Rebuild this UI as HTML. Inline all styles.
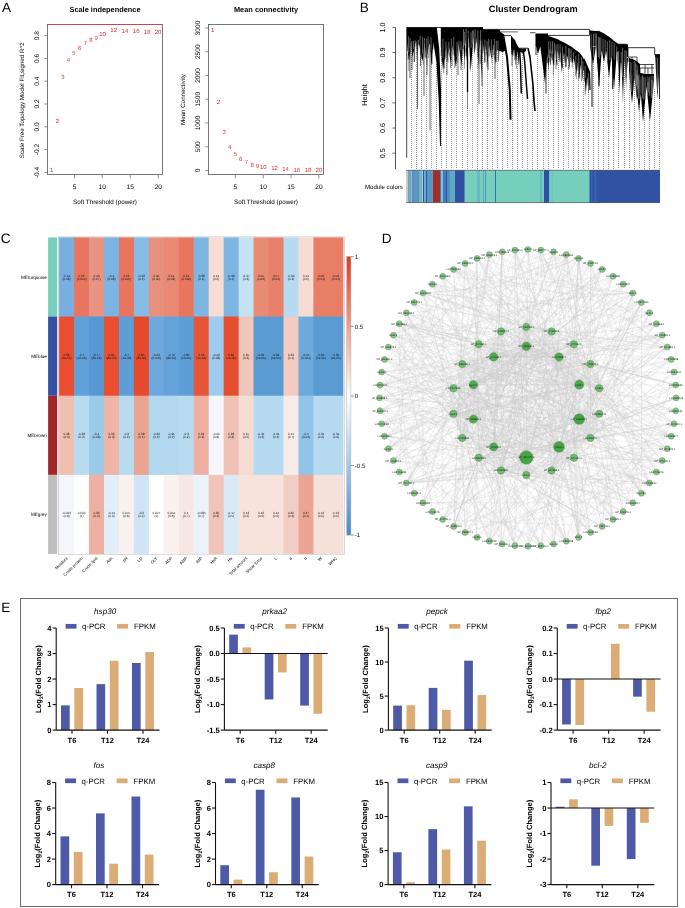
<!DOCTYPE html>
<html><head><meta charset="utf-8"><style>
html,body{margin:0;padding:0;background:#fff;}
svg{display:block;will-change:transform;}
text{font-family:"Liberation Sans",sans-serif;text-rendering:geometricPrecision;}
</style></head><body>
<svg width="685" height="908" viewBox="0 0 685 908" font-family="Liberation Sans, sans-serif">
<rect width="685" height="908" fill="#fff"/>
<text x="1.9" y="11.8" font-size="13.6">A</text>
<text x="359.8" y="11.7" font-size="13.6">B</text>
<text x="0.8" y="243.2" font-size="13.6">C</text>
<text x="381.7" y="243" font-size="13.6">D</text>
<text x="1.2" y="611.5" font-size="13.6">E</text>
<rect x="47.5" y="24.5" width="115.0" height="150.0" fill="none" stroke="#555" stroke-width="0.8"/>
<line x1="47.5" y1="24.5" x2="162.5" y2="24.5" stroke="#d04545" stroke-width="0.9"/>
<line x1="44.2" y1="35.6" x2="47.5" y2="35.6" stroke="#666" stroke-width="0.7"/>
<text transform="translate(36.3,35.6) rotate(-90)" text-anchor="middle" dy="0.35em" font-size="6.6" >0.8</text>
<line x1="44.2" y1="58.4" x2="47.5" y2="58.4" stroke="#666" stroke-width="0.7"/>
<text transform="translate(36.3,58.4) rotate(-90)" text-anchor="middle" dy="0.35em" font-size="6.6" >0.6</text>
<line x1="44.2" y1="81.2" x2="47.5" y2="81.2" stroke="#666" stroke-width="0.7"/>
<text transform="translate(36.3,81.2) rotate(-90)" text-anchor="middle" dy="0.35em" font-size="6.6" >0.4</text>
<line x1="44.2" y1="104" x2="47.5" y2="104" stroke="#666" stroke-width="0.7"/>
<text transform="translate(36.3,104) rotate(-90)" text-anchor="middle" dy="0.35em" font-size="6.6" >0.2</text>
<line x1="44.2" y1="126.8" x2="47.5" y2="126.8" stroke="#666" stroke-width="0.7"/>
<text transform="translate(36.3,126.8) rotate(-90)" text-anchor="middle" dy="0.35em" font-size="6.6" >0.0</text>
<line x1="44.2" y1="149.6" x2="47.5" y2="149.6" stroke="#666" stroke-width="0.7"/>
<text transform="translate(36.3,149.6) rotate(-90)" text-anchor="middle" dy="0.35em" font-size="6.6" >-0.2</text>
<line x1="44.2" y1="172.4" x2="47.5" y2="172.4" stroke="#666" stroke-width="0.7"/>
<text transform="translate(36.3,172.4) rotate(-90)" text-anchor="middle" dy="0.35em" font-size="6.6" >-0.4</text>
<line x1="74.5" y1="174.5" x2="74.5" y2="178.4" stroke="#666" stroke-width="0.7"/>
<text x="74.5" y="189.1" text-anchor="middle" font-size="6.6">5</text>
<line x1="102.2" y1="174.5" x2="102.2" y2="178.4" stroke="#666" stroke-width="0.7"/>
<text x="102.2" y="189.1" text-anchor="middle" font-size="6.6">10</text>
<line x1="130.2" y1="174.5" x2="130.2" y2="178.4" stroke="#666" stroke-width="0.7"/>
<text x="130.2" y="189.1" text-anchor="middle" font-size="6.6">15</text>
<line x1="158.3" y1="174.5" x2="158.3" y2="178.4" stroke="#666" stroke-width="0.7"/>
<text x="158.3" y="189.1" text-anchor="middle" font-size="6.6">20</text>
<text x="105" y="203.9" text-anchor="middle" font-size="6.3">Soft Threshold (power)</text>
<text transform="translate(22.3,100.2) rotate(-90)" text-anchor="middle" dy="0.35em" font-size="6.2" >Scale Free Topology Model Fit,signed R^2</text>
<text x="105" y="11.8" text-anchor="middle" font-size="7.4" font-weight="bold">Scale independence</text>
<text x="51.6" y="170" dy="0.35em" text-anchor="middle" font-size="6" fill="#e02a2a">1</text>
<text x="57.3" y="121" dy="0.35em" text-anchor="middle" font-size="6" fill="#e02a2a">2</text>
<text x="63" y="77" dy="0.35em" text-anchor="middle" font-size="6" fill="#e02a2a">3</text>
<text x="68.5" y="59.7" dy="0.35em" text-anchor="middle" font-size="6" fill="#e02a2a">4</text>
<text x="74" y="52.8" dy="0.35em" text-anchor="middle" font-size="6" fill="#e02a2a">5</text>
<text x="79.6" y="47.8" dy="0.35em" text-anchor="middle" font-size="6" fill="#e02a2a">6</text>
<text x="85.4" y="43.3" dy="0.35em" text-anchor="middle" font-size="6" fill="#e02a2a">7</text>
<text x="91" y="40.3" dy="0.35em" text-anchor="middle" font-size="6" fill="#e02a2a">8</text>
<text x="96.2" y="37.9" dy="0.35em" text-anchor="middle" font-size="6" fill="#e02a2a">9</text>
<text x="102.5" y="34.2" dy="0.35em" text-anchor="middle" font-size="6" fill="#e02a2a">10</text>
<text x="113.7" y="30.2" dy="0.35em" text-anchor="middle" font-size="6" fill="#e02a2a">12</text>
<text x="124.9" y="31.3" dy="0.35em" text-anchor="middle" font-size="6" fill="#e02a2a">14</text>
<text x="136.2" y="31.3" dy="0.35em" text-anchor="middle" font-size="6" fill="#e02a2a">16</text>
<text x="147.3" y="32" dy="0.35em" text-anchor="middle" font-size="6" fill="#e02a2a">18</text>
<text x="158" y="31.8" dy="0.35em" text-anchor="middle" font-size="6" fill="#e02a2a">20</text>
<rect x="208.5" y="24.5" width="115.0" height="150.0" fill="none" stroke="#555" stroke-width="0.8"/>
<line x1="205.2" y1="170.5" x2="208.5" y2="170.5" stroke="#666" stroke-width="0.7"/>
<text transform="translate(198,170.5) rotate(-90)" text-anchor="middle" dy="0.35em" font-size="6.6" >0</text>
<line x1="205.2" y1="146.75" x2="208.5" y2="146.75" stroke="#666" stroke-width="0.7"/>
<text transform="translate(198,146.75) rotate(-90)" text-anchor="middle" dy="0.35em" font-size="6.6" >500</text>
<line x1="205.2" y1="123" x2="208.5" y2="123" stroke="#666" stroke-width="0.7"/>
<text transform="translate(198,123) rotate(-90)" text-anchor="middle" dy="0.35em" font-size="6.6" >1000</text>
<line x1="205.2" y1="99.25" x2="208.5" y2="99.25" stroke="#666" stroke-width="0.7"/>
<text transform="translate(198,99.25) rotate(-90)" text-anchor="middle" dy="0.35em" font-size="6.6" >1500</text>
<line x1="205.2" y1="75.5" x2="208.5" y2="75.5" stroke="#666" stroke-width="0.7"/>
<text transform="translate(198,75.5) rotate(-90)" text-anchor="middle" dy="0.35em" font-size="6.6" >2000</text>
<line x1="205.2" y1="51.75" x2="208.5" y2="51.75" stroke="#666" stroke-width="0.7"/>
<text transform="translate(198,51.75) rotate(-90)" text-anchor="middle" dy="0.35em" font-size="6.6" >2500</text>
<line x1="205.2" y1="28" x2="208.5" y2="28" stroke="#666" stroke-width="0.7"/>
<text transform="translate(198,28) rotate(-90)" text-anchor="middle" dy="0.35em" font-size="6.6" >3000</text>
<line x1="235.3" y1="174.5" x2="235.3" y2="178.4" stroke="#666" stroke-width="0.7"/>
<text x="235.3" y="189.1" text-anchor="middle" font-size="6.6">5</text>
<line x1="263.3" y1="174.5" x2="263.3" y2="178.4" stroke="#666" stroke-width="0.7"/>
<text x="263.3" y="189.1" text-anchor="middle" font-size="6.6">10</text>
<line x1="291" y1="174.5" x2="291" y2="178.4" stroke="#666" stroke-width="0.7"/>
<text x="291" y="189.1" text-anchor="middle" font-size="6.6">15</text>
<line x1="318.9" y1="174.5" x2="318.9" y2="178.4" stroke="#666" stroke-width="0.7"/>
<text x="318.9" y="189.1" text-anchor="middle" font-size="6.6">20</text>
<text x="266" y="203.9" text-anchor="middle" font-size="6.3">Soft Threshold (power)</text>
<text transform="translate(183,99.5) rotate(-90)" text-anchor="middle" dy="0.35em" font-size="6.2" >Mean Connectivity</text>
<text x="266" y="11.8" text-anchor="middle" font-size="7.4" font-weight="bold">Mean connectivity</text>
<text x="212.7" y="30.3" dy="0.35em" text-anchor="middle" font-size="6" fill="#e02a2a">1</text>
<text x="218.4" y="102" dy="0.35em" text-anchor="middle" font-size="6" fill="#e02a2a">2</text>
<text x="224.1" y="132.3" dy="0.35em" text-anchor="middle" font-size="6" fill="#e02a2a">3</text>
<text x="229.6" y="146.4" dy="0.35em" text-anchor="middle" font-size="6" fill="#e02a2a">4</text>
<text x="235.3" y="154.1" dy="0.35em" text-anchor="middle" font-size="6" fill="#e02a2a">5</text>
<text x="240.7" y="159" dy="0.35em" text-anchor="middle" font-size="6" fill="#e02a2a">6</text>
<text x="246.4" y="162" dy="0.35em" text-anchor="middle" font-size="6" fill="#e02a2a">7</text>
<text x="252.1" y="164.5" dy="0.35em" text-anchor="middle" font-size="6" fill="#e02a2a">8</text>
<text x="257.3" y="165.5" dy="0.35em" text-anchor="middle" font-size="6" fill="#e02a2a">9</text>
<text x="263.3" y="167" dy="0.35em" text-anchor="middle" font-size="6" fill="#e02a2a">10</text>
<text x="274.5" y="167.7" dy="0.35em" text-anchor="middle" font-size="6" fill="#e02a2a">12</text>
<text x="285.6" y="168.7" dy="0.35em" text-anchor="middle" font-size="6" fill="#e02a2a">14</text>
<text x="296.8" y="169.5" dy="0.35em" text-anchor="middle" font-size="6" fill="#e02a2a">16</text>
<text x="308" y="169.7" dy="0.35em" text-anchor="middle" font-size="6" fill="#e02a2a">18</text>
<text x="318.9" y="169.7" dy="0.35em" text-anchor="middle" font-size="6" fill="#e02a2a">20</text>
<text x="533.2" y="11.6" text-anchor="middle" font-size="9.2" font-weight="bold">Cluster Dendrogram</text>
<line x1="395.5" y1="27.4" x2="395.5" y2="169.3" stroke="#444" stroke-width="0.9"/>
<line x1="392.4" y1="27.4" x2="395.5" y2="27.4" stroke="#444" stroke-width="0.8"/>
<text transform="translate(382.7,27.4) rotate(-90)" text-anchor="middle" dy="0.35em" font-size="7.2" >1.0</text>
<line x1="392.4" y1="52.56" x2="395.5" y2="52.56" stroke="#444" stroke-width="0.8"/>
<text transform="translate(382.7,52.56) rotate(-90)" text-anchor="middle" dy="0.35em" font-size="7.2" >0.9</text>
<line x1="392.4" y1="77.72" x2="395.5" y2="77.72" stroke="#444" stroke-width="0.8"/>
<text transform="translate(382.7,77.72) rotate(-90)" text-anchor="middle" dy="0.35em" font-size="7.2" >0.8</text>
<line x1="392.4" y1="102.88" x2="395.5" y2="102.88" stroke="#444" stroke-width="0.8"/>
<text transform="translate(382.7,102.88) rotate(-90)" text-anchor="middle" dy="0.35em" font-size="7.2" >0.7</text>
<line x1="392.4" y1="128.04" x2="395.5" y2="128.04" stroke="#444" stroke-width="0.8"/>
<text transform="translate(382.7,128.04) rotate(-90)" text-anchor="middle" dy="0.35em" font-size="7.2" >0.6</text>
<line x1="392.4" y1="153.2" x2="395.5" y2="153.2" stroke="#444" stroke-width="0.8"/>
<text transform="translate(382.7,153.2) rotate(-90)" text-anchor="middle" dy="0.35em" font-size="7.2" >0.5</text>
<text transform="translate(364.4,95) rotate(-90)" text-anchor="middle" dy="0.35em" font-size="7.5" >Height</text>
<text x="383.9" y="186.7" dy="0.35em" text-anchor="middle" font-size="6.1">Module colors</text>
<path d="M411.5 47V169M416.5 48V169M421.5 56V169M426.5 58V169M431.5 67V169M436.5 64V169M441.5 55V169M446.5 47V169M451.5 55V169M456.5 63V169M462.5 53V169M467.5 50V169M472.5 49V169M477.5 52V169M482.5 50V169M487.5 66V169M492.5 52V169M497.5 51V169M502.5 52V169M507.5 63V169M512.5 56V169M517.5 52V169M522.5 53V169M527.5 100V169M532.5 86V169M537.5 52V169M543.5 72V169M548.5 68V169M553.5 67V169M558.5 57V169M563.5 58V169M568.5 63V169M573.5 60V169M578.5 76V169M583.5 70V169M588.5 92V169M593.5 62V169M598.5 82V169M603.5 60V169M608.5 74V169M613.5 84V169M618.5 73V169M624.5 61V169M629.5 77V169M634.5 80V169M639.5 107V169M644.5 108V169M649.5 116V169M654.5 89V169M659.5 64V169" stroke="#8a8a8a" stroke-width="0.9" stroke-dasharray="1 1" fill="none"/><path d="M407.3 43.8V51.5M408.1 52.8V59.8M408.9 61.7V71M409.8 54.1V59.5M410.6 44.3V53.8M413 54V61.9M413.9 49.8V52.9M414.7 45.6V49.1M415.5 41.5V46.4M416.3 45.5V53.6M417.2 51.5V59.8M418.1 45.3V50.6M420.7 51V55.9M421.5 55V58.6M423.2 54.9V64.7M424.1 45.7V56.4M425 45.8V56.7M425.9 55.2V58.8M426.8 55.2V64.4M427.7 51.2V54.9M428.6 47.2V57.9M430.4 47.8V51.3M432.2 56.5V64M433.1 44.8V49.4M441.2 49.6V56M442 58.8V62.1M443.7 64.6V73.2M444.5 59V68.6M445.4 53.4V58.7M446.2 47.8V56.6M447 51.7V61.5M448 57.4V62.6M449.7 52.3V56.7M450.5 60.7V68.3M451.3 54.6V60.5M453 46.7V54.4M453.8 52.4V55.7M454.7 58.2V68.4M457.2 54.9V63M458.1 47.5V56.3M463.4 44.3V49.1M464.3 61.9V68.9M465.1 45.7V56.1M466.1 48.3V52.6M468.2 40.9V47.4M469.2 43.1V47.7M470.1 59.4V68.8M473 41.2V48.9M476.3 39.3V43.6M477.2 44.4V50.7M478.1 62V68.9M479 53.5V63.2M480.8 55.4V64.1M481.7 65.4V70.8M484.4 56.4V63M485.3 52.2V62.4M487 58.7V67M487.9 60.5V69.3M489.6 46.3V56.5M492 54V63.4M492.9 47.3V57.6M493.7 46.1V55.3M494.7 56.2V59.4M496.5 52.9V62.3M497.4 45V50.7M498.4 54.4V61.6M511.5 51V54.2M513.6 49.4V55.7M514.6 51.4V60M515.5 57.1V64.5M516.4 58.1V68.7M547.5 55V63M549.5 52.6V61.9M550.5 58.8V64.7M551.5 54V57.8M552.4 54.8V59.8M553.3 67.7V74.9M554.2 59.5V65.5M555 51.3V58.5M556 59.7V69.5M557.2 55.4V65.3M559.8 54.7V60.2M560.7 57.5V62.4M562.6 63.7V67.4M564.6 56.4V62.6M565.5 64.1V67.2M566.5 58.7V67.2M568.4 60.8V69.2M569.3 65.2V68.8M570.3 59V62.3M571.3 58.5V62.7M572.3 63.1V67.7M575.4 66.8V75.9M576.3 72.3V79M577.3 64.1V70.6M579.8 71.7V78.3M581.5 71.3V81.4M584.3 74V81.8M585.2 84.5V95.4M587.1 75.2V85.5" stroke="#3a3a3a" stroke-width="0.55" fill="none"/>
<path d="M406.9 27.5 407.9 27.5 408.9 27.5 410 27.5 411 27.5 412 27.5 413 27.5 414.1 27.5 415.1 27.5 416.1 27.5 417.1 27.5 418.2 27.5 419.2 27.5 420.2 27.5 421.2 27.5 422.2 27.5 423.3 27.5 424.3 27.5 425.3 27.5 426.3 27.5 427.4 27.5 428.4 27.5 429.4 27.5 430.4 27.5 431.5 27.5 432.5 27.5 433.5 27.5 433.5 40 432.5 41.2 431.5 42.3 430.4 43.5 429.4 43.8 428.4 43.5 427.4 43.1 426.3 42.8 425.3 42.4 424.3 42.1 423.3 42.4 422.2 42.9 421.2 43.4 420.2 43.9 419.2 44.4 418.2 44.9 417.1 44.3 416.1 43.4 415.1 42.6 414.1 41.7 413 40.9 412 40 411 40.4 410 40.8 408.9 41.2 407.9 41.6 406.9 42ZM411.1 39.4 410.8 43.5 410.4 47.5 410.1 51.6 409.7 55.6 409.4 59.7 409 63.7 409 63.7 408.7 59.7 408.3 55.6 407.9 51.6 407.5 47.5 407.1 43.5 406.8 39.4ZM416.1 39.4 415.5 42.4 414.9 45.4 414.3 48.4 413.7 51.4 413.1 54.4 412.5 57.4 412.5 57.4 412.3 54.4 412 51.4 411.7 48.4 411.4 45.4 411.1 42.4 410.8 39.4ZM418.7 42.3 418.4 44 418.2 45.8 417.9 47.5 417.7 49.3 417.4 51 417.2 52.8 417.2 52.8 416.9 51 416.7 49.3 416.5 47.5 416.2 45.8 416 44 415.8 42.3ZM424.7 41.2 424.3 44.6 424 47.9 423.7 51.3 423.4 54.7 423 58.1 422.7 61.5 422.7 61.5 422 58.1 421.3 54.7 420.5 51.3 419.8 47.9 419.1 44.6 418.4 41.2ZM430.1 41.2 429.5 44.1 428.8 47.1 428.1 50.1 427.5 53.1 426.8 56 426.1 59 426.1 59 425.8 56 425.6 53.1 425.3 50.1 425 47.1 424.7 44.1 424.4 41.2ZM433.6 39 433.3 43.9 432.9 48.7 432.5 53.6 432.1 58.4 431.8 63.3 431.4 68.1 431.4 68.1 431.1 63.3 430.9 58.4 430.6 53.6 430.3 48.7 430.1 43.9 429.8 39ZM433.3 27.6 436.8 27.6 439.2 48 441 90 440.9 146 440 146 438.7 100 436.4 62 433.3 42ZM440.8 27.5 441.8 27.5 442.8 27.5 443.8 27.5 444.8 27.5 445.8 27.5 446.9 27.5 447.9 27.5 448.9 27.5 449.9 27.5 450.9 27.5 451.9 27.5 452.9 27.5 453.9 27.5 454.9 27.5 455.9 27.5 456.9 27.5 458 27.5 459 27.5 460 27.5 461 27.5 462 27.5 463 27.5 463 43 462 43.4 461 43.8 460 44.2 459 44.6 458 45 456.9 45.3 455.9 45.5 454.9 45.8 453.9 46 452.9 46.3 451.9 46.5 450.9 46.8 449.9 47 448.9 46.9 447.9 46.8 446.9 46.7 445.8 46.5 444.8 46.4 443.8 46.3 442.8 46.2 441.8 46.1 440.8 46ZM446.7 45 446.1 49.2 445.5 53.4 444.9 57.7 444.2 61.9 443.6 66.1 443 70.3 443 70.3 442.6 66.1 442.2 61.9 441.8 57.7 441.4 53.4 441 49.2 440.7 45ZM449.5 45.6 449.2 48.2 448.9 50.7 448.6 53.3 448.3 55.8 448 58.4 447.7 60.9 447.7 60.9 447.5 58.4 447.3 55.8 447.1 53.3 446.8 50.7 446.6 48.2 446.4 45.6ZM452.7 45.4 452.3 48.4 451.9 51.4 451.5 54.4 451.1 57.4 450.7 60.4 450.3 63.4 450.3 63.4 450.1 60.4 449.9 57.4 449.7 54.4 449.6 51.4 449.4 48.4 449.2 45.4ZM458.6 43.8 458.2 47.7 457.7 51.7 457.3 55.6 456.8 59.5 456.3 63.5 455.9 67.4 455.9 67.4 455.3 63.5 454.7 59.5 454.1 55.6 453.6 51.7 453 47.7 452.4 43.8ZM463.1 42 462.9 46.1 462.6 50.2 462.4 54.3 462.1 58.5 461.9 62.6 461.6 66.7 461.6 66.7 461.1 62.6 460.5 58.5 460 54.3 459.4 50.2 458.9 46.1 458.3 42ZM463 27.5 464 27.5 465 27.5 466 27.5 467 27.5 468 27.5 469 27.5 470 27.5 471 27.5 472 27.5 473 27.5 474 27.5 475 27.5 476 27.5 477 27.5 478 27.5 479 27.5 480 27.5 481 27.5 482 27.5 483 27.5 483 37 482 37.1 481 37.3 480 37.4 479 37.6 478 37.7 477 37.9 476 38 475 37.7 474 37.3 473 37 472 36.7 471 36.3 470 36 469 36.3 468 36.6 467 36.9 466 37.1 465 37.4 464 37.7 463 38ZM465.7 36.3 465.5 41.2 465.2 46.1 465 51 464.8 55.9 464.6 60.8 464.4 65.7 464.4 65.7 464.2 60.8 463.9 55.9 463.7 51 463.4 46.1 463.1 41.2 462.9 36.3ZM468.9 35.4 468.4 39.7 468 44.1 467.6 48.5 467.2 52.9 466.8 57.3 466.5 61.6 466.5 61.6 466.4 57.3 466.2 52.9 466 48.5 465.8 44.1 465.6 39.7 465.4 35.4ZM473.6 35.4 473.1 41.6 472.6 47.9 472.1 54.1 471.6 60.4 471.1 66.6 470.8 72.9 470.8 72.9 470.5 66.6 470.1 60.4 469.7 54.1 469.4 47.9 469 41.6 468.6 35.4ZM476.9 36.1 476.5 39.3 476.1 42.4 475.7 45.5 475.3 48.7 474.9 51.8 474.6 54.9 474.6 54.9 474.4 51.8 474.2 48.7 474 45.5 473.8 42.4 473.5 39.3 473.3 36.1ZM480.5 36.4 480.1 41.3 479.7 46.3 479.3 51.2 478.9 56.2 478.5 61.2 478.2 66.1 478.2 66.1 478 61.2 477.7 56.2 477.5 51.2 477.2 46.3 476.9 41.3 476.6 36.4ZM483.1 36 482.8 43.1 482.5 50.1 482.1 57.2 481.8 64.3 481.5 71.4 481.2 78.4 481.2 78.4 481.1 71.4 480.9 64.3 480.8 57.2 480.6 50.1 480.4 43.1 480.2 36ZM483 29.6 484 29.6 485 29.6 486 29.6 487 29.6 488 29.6 489 29.6 490 29.6 491 29.6 492 29.6 493 29.6 494 29.6 495 29.6 496 29.6 497 29.6 498 29.6 499 29.6 500 29.6 500 40 499 41 498 42 497 43 496 44 495 44.3 494 44.7 493 45 492 45.3 491 45.7 490 46 489 45.7 488 45.4 487 45.1 486 44.9 485 44.6 484 44.3 483 44ZM485.9 43 485.7 46.2 485.5 49.3 485.3 52.5 485.2 55.7 485 58.8 484.8 62 484.8 62 484.5 58.8 484.2 55.7 483.8 52.5 483.5 49.3 483.2 46.2 482.9 43ZM489.3 43.8 489 47.5 488.7 51.1 488.4 54.8 488.1 58.5 487.8 62.2 487.5 65.8 487.5 65.8 487.2 62.2 486.9 58.5 486.6 54.8 486.2 51.1 485.9 47.5 485.6 43.8ZM493.4 43.9 493.1 46.4 492.8 48.9 492.5 51.4 492.2 53.9 491.9 56.4 491.6 58.8 491.6 58.8 491.1 56.4 490.7 53.9 490.3 51.4 489.9 48.9 489.4 46.4 489 43.9ZM498.1 41.1 497.6 44.9 497.1 48.8 496.7 52.7 496.2 56.5 495.8 60.4 495.3 64.2 495.3 64.2 494.9 60.4 494.6 56.5 494.2 52.7 493.8 48.8 493.5 44.9 493.1 41.1ZM500.1 39 499.9 42.8 499.7 46.7 499.4 50.5 499.2 54.3 498.9 58.2 498.7 62 498.7 62 498.5 58.2 498.4 54.3 498.2 50.5 498.1 46.7 497.9 42.8 497.8 39ZM496 29.6 497 30.4 498 31.1 499 31.9 500 32.6 501 33.4 502 34.1 503 34.9 504 38.7 505 43.4 506 48 506 50 505 50.7 504 51.3 503 52 502 51.7 501 51.4 500 51.1 499 50.9 498 50.6 497 50.3 496 50ZM511 35.6 512.1 36.8 513.1 37.9 514.2 39.1 515.2 40.6 516.3 43.3 517.4 45.5 518.4 47 519.5 48.5 519.5 52 518.4 51.5 517.4 51.1 516.3 50.6 515.2 50.1 514.2 49.6 513.1 49.1 512.1 48.5 511 48ZM514.3 47 513.9 48.7 513.6 50.4 513.2 52.1 512.9 53.7 512.5 55.4 512.2 57.1 512.2 57.1 512 55.4 511.7 53.7 511.5 52.1 511.3 50.4 511.1 48.7 510.9 47ZM517.9 48.6 517.6 50.7 517.3 52.9 517 55.1 516.7 57.2 516.3 59.4 516 61.6 516 61.6 515.7 59.4 515.4 57.2 515 55.1 514.7 52.9 514.3 50.7 514 48.6ZM519.6 50.2 519.5 52.8 519.3 55.4 519.1 58 519 60.6 518.8 63.2 518.6 65.8 518.6 65.8 518.4 63.2 518.3 60.6 518.1 58 517.9 55.4 517.8 52.8 517.6 50.2ZM519.5 48.5 520.6 48.5 521.7 48.5 522.8 48.5 523.8 48.5 524.9 48.5 526 48.5 526 51 524.9 51.7 523.8 52.4 522.8 52.9 521.7 52.6 520.6 52.3 519.5 52ZM535.5 33.5 536.5 33.5 537.6 33.5 538.6 33.5 539.7 33.5 540.7 33.5 541.8 33.5 542.8 33.5 543.8 33.5 544.9 33.5 545.9 33.5 547 33.5 548 33.5 548 44 547 44.3 545.9 44.6 544.9 44.9 543.8 45.2 542.8 45.5 541.8 45.8 540.7 45.9 539.7 45.5 538.6 45.1 537.6 44.8 536.5 44.4 535.5 44ZM541 44 540.5 45.7 540 47.3 539.5 49 539 50.7 538.5 52.3 538 54 538 54 537.6 52.3 537.2 50.7 536.8 49 536.3 47.3 535.9 45.7 535.5 44ZM548 44 547.5 50.6 547 57.2 546.5 63.8 546 70.3 545.5 76.9 545 83.5 545 83.5 544.2 76.9 543.3 70.3 542.5 63.8 541.7 57.2 540.8 50.6 540 44ZM547 35.6 548.1 35.9 549.1 36.2 550.2 36.6 551.2 36.9 552.3 37.3 553.4 37.7 554.4 38.1 555.5 38.5 556.6 38.8 557.6 39.3 558.7 39.8 559.8 40.4 560.8 40.9 561.9 41.4 562.9 42 564 42.5 565.1 43 566.1 43.6 567.2 44.2 568.2 44.9 569.3 45.5 570.4 46.1 571.4 46.7 572.5 47.4 573.6 48.2 574.6 49.1 575.7 50 576.8 50.8 577.8 51.5 578.9 52.2 579.9 53 581 54.5 582.1 56.1 583.1 57.7 584.2 59.4 585.2 61.9 586.3 64.4 587.4 66.9 588.4 69.5 589.5 72 589.5 83 588.4 80.5 587.4 77.9 586.3 75.4 585.2 72.9 584.2 70.4 583.1 68.7 582.1 67.1 581 65.5 579.9 64 578.9 63.2 577.8 62.5 576.8 61.8 575.7 61 574.6 60.1 573.6 59.2 572.5 58.4 571.4 57.7 570.4 57.1 569.3 56.5 568.2 55.9 567.2 55.2 566.1 54.6 565.1 54 564 53.5 562.9 53 561.9 52.4 560.8 51.9 559.8 51.4 558.7 50.8 557.6 50.3 556.6 49.8 555.5 49.5 554.4 49.1 553.4 48.7 552.3 48.3 551.2 47.9 550.2 47.6 549.1 47.2 548.1 46.9 547 46.6ZM550.1 45.6 549.8 49.8 549.5 54 549.2 58.2 548.9 62.4 548.6 66.6 548.3 70.8 548.3 70.8 548 66.6 547.8 62.4 547.6 58.2 547.3 54 547.1 49.8 546.9 45.6ZM552.1 46.5 551.9 49.8 551.7 53 551.4 56.3 551.2 59.6 551 62.9 550.7 66.1 550.7 66.1 550.6 62.9 550.4 59.6 550.3 56.3 550.1 53 550 49.8 549.8 46.5ZM555.6 47.2 555.2 50.9 554.8 54.6 554.4 58.4 554 62.1 553.6 65.8 553.2 69.5 553.2 69.5 553 65.8 552.8 62.1 552.5 58.4 552.3 54.6 552.1 50.9 551.8 47.2ZM557.9 48.5 557.7 51.5 557.4 54.5 557.1 57.6 556.9 60.6 556.6 63.6 556.3 66.7 556.3 66.7 556.2 63.6 556 60.6 555.8 57.6 555.7 54.5 555.5 51.5 555.3 48.5ZM560.4 49.4 560.2 51.7 560 54 559.8 56.3 559.6 58.7 559.4 61 559.2 63.3 559.2 63.3 559 61 558.7 58.7 558.4 56.3 558.2 54 557.9 51.7 557.6 49.4ZM564.2 50.6 563.8 54.3 563.4 58.1 563 61.8 562.6 65.5 562.2 69.2 561.7 72.9 561.7 72.9 561.5 69.2 561.2 65.5 560.9 61.8 560.6 58.1 560.4 54.3 560.1 50.6ZM567.1 52.5 566.9 55.1 566.7 57.6 566.5 60.2 566.3 62.7 566 65.2 565.8 67.8 565.8 67.8 565.5 65.2 565.2 62.7 564.9 60.2 564.6 57.6 564.3 55.1 563.9 52.5ZM570.9 54.1 570.7 56.3 570.5 58.5 570.2 60.7 570 62.9 569.8 65.1 569.6 67.3 569.6 67.3 569.1 65.1 568.6 62.9 568.2 60.7 567.7 58.5 567.2 56.3 566.8 54.1ZM574 56.3 573.7 57.6 573.4 58.9 573.2 60.2 572.9 61.5 572.6 62.8 572.3 64.1 572.3 64.1 572 62.8 571.8 61.5 571.5 60.2 571.2 58.9 570.9 57.6 570.6 56.3ZM578 58.5 577.7 61.1 577.5 63.8 577.3 66.4 577 69 576.8 71.7 576.5 74.3 576.5 74.3 576.1 71.7 575.6 69 575.1 66.4 574.7 63.8 574.2 61.1 573.7 58.5ZM581.2 61.6 580.8 64.8 580.4 68.1 580 71.4 579.6 74.7 579.2 78 578.8 81.3 578.8 81.3 578.6 78 578.4 74.7 578.3 71.4 578.1 68.1 577.9 64.8 577.7 61.6ZM584 64.6 583.7 67.3 583.4 70 583.1 72.7 582.7 75.4 582.4 78.1 582.1 80.8 582.1 80.8 581.9 78.1 581.7 75.4 581.5 72.7 581.3 70 581.1 67.3 580.9 64.6ZM587.7 68.8 587.4 72.8 587.1 76.8 586.8 80.9 586.5 84.9 586.2 88.9 585.9 92.9 585.9 92.9 585.5 88.9 585.2 84.9 584.8 80.9 584.4 76.8 584.1 72.8 583.7 68.8ZM589.6 77.4 589.5 80.3 589.4 83.1 589.2 86 589.1 88.9 588.9 91.7 588.8 94.6 588.8 94.6 588.5 91.7 588.3 88.9 588.1 86 587.9 83.1 587.6 80.3 587.4 77.4ZM590 30.5 591 30.6 592 30.7 593 30.8 594 30.9 595 31 596 31.1 597 31.2 598 31.3 599 31.4 600 31.5 601 32 602 32.5 603 33 604 33.5 605 34 606 34.7 607 35.4 608 36.1 609 36.8 610 37.5 611 38.3 612 39.1 613 39.9 614 40.7 615 41.5 616 42.2 617 42.8 618 43.5 618 52 617 51.8 616 51.5 615 51.2 614 51 613 50.8 612 50.5 611 50.2 610 50 609 49.6 608 49.2 607 48.8 606 48.4 605 48 604 47.6 603 47.2 602 46.8 601 46.4 600 46 599 46.1 598 46.2 597 46.3 596 46.4 595 46.5 594 46.6 593 46.7 592 46.8 591 46.9 590 47ZM596 47 595.5 49.9 595 52.8 594.5 55.8 594 58.7 593.5 61.6 593 64.5 593 64.5 592.5 61.6 592 58.7 591.5 55.8 591 52.8 590.5 49.9 590 47ZM602 46 601.5 53.1 601 60.2 600.5 67.3 600 74.5 599.5 81.6 599 88.7 599 88.7 598.5 81.6 598 74.5 597.5 67.3 597 60.2 596.5 53.1 596 46ZM607 47 606.5 49.5 606 52 605.5 54.5 605 57 604.5 59.5 604 62 604 62 603.5 59.5 603 57 602.5 54.5 602 52 601.5 49.5 601 47ZM612 49 611.5 53.8 611 58.7 610.5 63.5 610 68.3 609.5 73.2 609 78 609 78 608.5 73.2 608 68.3 607.5 63.5 607 58.7 606.5 53.8 606 49ZM617 50 616.5 56.7 616 63.3 615.5 70 615 76.7 614.5 83.3 614 90 614 90 613.5 83.3 613 76.7 612.5 70 612 63.3 611.5 56.7 611 50ZM617.5 44.2 618.5 44.2 619.6 44.2 620.6 44.2 621.7 44.2 622.8 44.2 623.8 44.2 624.9 44.2 625.9 44.2 627 44.2 628 44.2 628 56 627 57.4 625.9 58.8 624.9 60.2 623.8 61.6 622.8 63 621.7 63.7 620.6 62.8 619.6 61.9 618.5 60.9 617.5 60ZM621 59 620.7 65 620.3 71 620.1 77 619.8 83 619.6 89 619.5 95 619.5 95 619.3 89 619.1 83 618.8 77 618.4 71 618 65 617.5 59ZM624.5 60 624.2 67.5 623.8 75 623.6 82.5 623.3 90 623.1 97.5 623 105 623 105 622.8 97.5 622.6 90 622.3 82.5 621.9 75 621.5 67.5 621 60ZM628 58 627.5 63.3 627.1 68.7 626.7 74 626.4 79.3 626.2 84.7 626 90 626 90 625.9 84.7 625.7 79.3 625.4 74 625.2 68.7 624.8 63.3 624.5 58ZM629 58 630 58.3 631 58.7 632 59 633 59.3 634 59.7 635 60 636 60.8 637 61.6 638 62.4 639 63.2 640 64 640 78 639 77.6 638 77.2 637 76.8 636 76.4 635 76 634 75.3 633 74.7 632 74 631 73.3 630 72.7 629 72ZM635 71 634.5 76.5 634 81.9 633.5 87.4 633 92.9 632.5 98.3 632 103.8 632 103.8 631.5 98.3 631 92.9 630.5 87.4 630 81.9 629.5 76.5 629 71ZM640 75 639.5 79.2 639 83.3 638.5 87.5 638 91.7 637.5 95.8 637 100 637 100 636.5 95.8 636 91.7 635.5 87.5 635 83.3 634.5 79.2 634 75ZM636 72 637 72.2 638 72.4 639 72.7 640 72.9 641 73.1 642 73.3 643 73.6 644 73.8 645 74 646 74 647 74 648 74 649 74 650 74 651 74 652 74 653 74 654 74 654 82 653 82.2 652 82.4 651 82.7 650 82.9 649 83.1 648 83.3 647 83.6 646 83.8 645 84 644 83.8 643 83.6 642 83.3 641 83.1 640 82.9 639 82.7 638 82.4 637 82.2 636 82ZM642 81 641.5 86.2 641 91.3 640.5 96.5 640 101.7 639.5 106.8 639 112 639 112 638.5 106.8 638 101.7 637.5 96.5 637 91.3 636.5 86.2 636 81ZM647 82 646.3 88.7 645.7 95.4 645 102.2 644.3 108.9 643.7 115.6 643 122.3 643 122.3 642.5 115.6 642 108.9 641.5 102.2 641 95.4 640.5 88.7 640 82ZM654 81 653.3 87.7 652.7 94.3 652 101 651.3 107.7 650.7 114.3 650 121 650 121 649.3 114.3 648.7 107.7 648 101 647.3 94.3 646.7 87.7 646 81ZM660 54.6 659.6 62 659.2 69.4 658.8 76.8 658.3 84.2 657.9 91.6 657.5 99 657.5 99 657.1 91.6 656.7 84.2 656.2 76.8 655.8 69.4 655.4 62 655 54.6Z" fill="#000"/>
<path d="M408.6 36.3V52.5M410 38V48.5M411.7 41.3V52.5M413.5 40.8V48.9M415.4 40.6V54M416.8 41.4V51.7M418.4 40.1V53.4M420.2 35.9V50.6M422.6 37V53.5M424.5 38.2V55.8M426.6 38.9V55.8M428.1 36.4V56.6M431 37V50.3M442.9 38.6V57.7M445.9 41.7V55.9M448.8 41.7V57.4M451.3 38.8V57.3M453.7 37V57.2M457 41.8V57.1M458.9 40.9V55.3M461 41.5V50.5M463.5 29V47.5M464.7 31.8V45.4M466.1 28.7V48.1M468.2 31V47.8M471.1 32.3V47.8M472.6 30.4V44.3M473.7 30.4V49M475.2 29.6V46.5M477.8 30.6V48.7M480.6 30.1V49.7M484.9 39.7V58.1M487.1 41.3V51.9M488.7 38.8V53.9M491.4 39.4V55.7M494.4 39V53M496.3 40.7V56.9M497.9 40.7V55.9M548.7 41.2V58.2M550.7 41.6V53.3M552.5 41.3V53.5M554.4 42.6V59.1M556 44.4V60M557.9 44.1V60M560.1 44.1V64.6M562.6 46.6V63.9M565.9 45.6V64.4M568.6 48.1V64.3M569.8 48.5V64.8M571.2 49.5V69.8M573.5 52.2V71.9M575.8 56V71.2M578.7 54.4V72.9M581.5 57.4V78.6M582.9 61.3V74.7M585.1 66V78.1M588.3 72.8V89.3M591.1 33.8V57.1M593.5 34V57.4M595.2 33.1V53.4M596.4 33.8V57.4M598.4 36.9V57.2M599.6 37.4V58.6M600.8 37.5V54.8M603 38.9V54.1M605.2 39.9V58.9M607.4 41.6V60.5M609.8 39.8V59.9M611.9 41.8V55.9M614.2 43.3V59.6M616.7 46.5V58.8M618.5 51.1V74.2M621.2 52V75.9M622.6 47.8V77.1M624.9 50.3V72.9M626.3 50.6V74.5M630.3 61.7V86.5M631.7 62.8V92.3M634.2 60.8V85.5M635.5 62.7V90M636.6 63.9V85.6M637.7 65.2V89.4M636.9 74.6V93.7M638.3 75.7V98.7M639.2 74.1V98.5M641 76.4V93.7M642.5 75.2V98.5M643.8 76.7V99.9M645.2 76.6V98M647.4 76.3V95M648.4 77.6V92.6M649.3 76.7V95.9M651.2 75.9V98.2M652.1 75.6V97.3M653.1 75.9V97.8M655.8 57V92.9M657.6 57.7V90.9M659.4 58.3V97.3" stroke="#fff" stroke-width="0.45" stroke-opacity="0.85" fill="none"/>
<path d="M406.7 27.5V157.8" stroke="#333" stroke-width="0.9" fill="none"/>
<path d="M410 40V78M412 40V70M417.5 40V109M424 40V96M430 40V130M427 40V75M414.5 40V62M420.5 40V66" stroke="#222" stroke-width="0.7" fill="none"/>
<path d="M467.5 33V92" stroke="#000" stroke-width="1.3" fill="none"/>
<path d="M467.5 92V109" stroke="#666" stroke-width="0.7" fill="none"/>
<path d="M479 40V104" stroke="#444" stroke-width="0.8" fill="none"/>
<path d="M482 40V86M495 50V79" stroke="#333" stroke-width="0.8" fill="none"/>
<path d="M442 45V61M447 45V75M452 45V66M458 45V75M461 45V70M512 50V66" stroke="#333" stroke-width="0.7" fill="none"/>
<path d="M488 50V70" stroke="#444" stroke-width="0.7" fill="none"/>
<path d="M589.5 29.4V35.4M536 44V55M546 60V93.4M612.5 60V89M654.7 47.7V54.6M628 47.7V62M659.5 54.6V99" stroke="#000" stroke-width="0.8" fill="none"/>
<path d="M592 50V107" stroke="#000" stroke-width="0.9" fill="none"/>
<path d="M599 60V86M632 57V75M637 57V70M640 68V80M645 64.5V78M648 68V82M652 64.5V80" stroke="#000" stroke-width="0.7" fill="none"/>
<path d="M406.7 27.5 483 27.5M483 29.4 589.5 29.4M503.2 35.6 511 35.6M519.1 48.2 528 48.2M535.5 35.4 589.5 35.4M589.5 31.4 600 31.4M617.5 44.2 626.4 44.2M628 47.7 654.7 47.7M654.7 54.6 660 54.6" stroke="#000" stroke-width="0.8" fill="none" stroke-linejoin="round"/>
<path d="M496 31.9 518 31.9" stroke="#000" stroke-width="0.6" fill="none" stroke-linejoin="round"/>
<path d="M496 30 503.2 35 507 57 509.8 90 510.5 119.8" stroke="#000" stroke-width="2.0" fill="none" stroke-linejoin="round"/>
<path d="M519.5 48.5 520.5 65 521.3 93.4M523 49 524.5 60 527.5 99" stroke="#000" stroke-width="1.5" fill="none" stroke-linejoin="round"/>
<path d="M528 48.2 530 57 533 85 534 101 535 111" stroke="#000" stroke-width="1.6" fill="none" stroke-linejoin="round"/>
<path d="M530 32.7 535.5 32.7M628 57 637 57M638 64.5 654 64.5M640 68 654 68" stroke="#000" stroke-width="0.7" fill="none" stroke-linejoin="round"/>
<path d="M584 59 587 66 589.5 72 590 90" stroke="#000" stroke-width="1.2" fill="none" stroke-linejoin="round"/><rect x="406.1" y="170.3" width="1.7" height="32.3" fill="#c8c8c8"/><rect x="407.8" y="170.3" width="3.2" height="32.3" fill="#70a8c0"/><rect x="411" y="170.3" width="1" height="32.3" fill="#80c8c0"/><rect x="412" y="170.3" width="2" height="32.3" fill="#6a88c8"/><rect x="414" y="170.3" width="4" height="32.3" fill="#5a9ac0"/><rect x="418" y="170.3" width="1" height="32.3" fill="#6a80c8"/><rect x="419" y="170.3" width="3.5" height="32.3" fill="#70b8c0"/><rect x="422.5" y="170.3" width="0.5" height="32.3" fill="#78cfbe"/><rect x="423" y="170.3" width="1.5" height="32.3" fill="#3050a8"/><rect x="424.5" y="170.3" width="1.5" height="32.3" fill="#60a8c8"/><rect x="426" y="170.3" width="1" height="32.3" fill="#3858b0"/><rect x="427" y="170.3" width="5.9" height="32.3" fill="#5898c0"/><rect x="432.9" y="170.3" width="7.1" height="32.3" fill="#a02c2e"/><rect x="440" y="170.3" width="1.5" height="32.3" fill="#4080c0"/><rect x="441.5" y="170.3" width="1.5" height="32.3" fill="#70c8c0"/><rect x="443" y="170.3" width="3" height="32.3" fill="#4878c0"/><rect x="446" y="170.3" width="1" height="32.3" fill="#3050a8"/><rect x="447" y="170.3" width="3" height="32.3" fill="#5090c0"/><rect x="450" y="170.3" width="5" height="32.3" fill="#60a8c0"/><rect x="455" y="170.3" width="9.8" height="32.3" fill="#3050a3"/><rect x="464.8" y="170.3" width="195.2" height="32.3" fill="#76cebd"/><rect x="477.2" y="170.3" width="2.7" height="32.3" fill="#68b8c4"/><rect x="483.1" y="170.3" width="0.9" height="32.3" fill="#60a8c8"/><rect x="485.1" y="170.3" width="0.9" height="32.3" fill="#5090c8"/><rect x="495" y="170.3" width="1" height="32.3" fill="#3a6cb8"/><rect x="540.3" y="170.3" width="1.3" height="32.3" fill="#60a8c8"/><rect x="544" y="170.3" width="5.1" height="32.3" fill="#3050a3"/><rect x="551.7" y="170.3" width="0.8" height="32.3" fill="#68b8c8"/><rect x="589.5" y="170.3" width="70.5" height="32.3" fill="#3151a2"/><rect x="591" y="170.3" width="1.5" height="32.3" fill="#3a62b2"/><rect x="594" y="170.3" width="2.5" height="32.3" fill="#3a60b0"/><rect x="598" y="170.3" width="1" height="32.3" fill="#3558aa"/><path d="M406.1 170.3H659.8M406.1 202.6H659.8" stroke="#333" stroke-width="0.6"/>
<rect x="58.4" y="236.9" width="285.9" height="317.3" fill="none" stroke="#c8c8c8" stroke-width="0.8"/>
<rect x="48.1" y="237.4" width="9.1" height="79.2" fill="#78cfbe"/>
<text x="46.8" y="276.98" dy="0.35em" text-anchor="end" font-size="4.6">MEturquoise</text>
<rect x="59.1" y="237.4" width="15.56" height="79.75" fill="#78aee0"/>
<text x="66.58" y="276.68" text-anchor="middle" font-size="3.1" fill="#111">-0.41</text>
<text x="66.58" y="279.98" text-anchor="middle" font-size="3.1" fill="#111">(0.09)</text>
<rect x="74.06" y="237.4" width="15.56" height="79.75" fill="#e8765e"/>
<text x="81.54" y="276.68" text-anchor="middle" font-size="3.1" fill="#111">0.62</text>
<text x="81.54" y="279.98" text-anchor="middle" font-size="3.1" fill="#111">(0.005)</text>
<rect x="89.02" y="237.4" width="15.56" height="79.75" fill="#e89482"/>
<text x="96.5" y="276.68" text-anchor="middle" font-size="3.1" fill="#111">0.43</text>
<text x="96.5" y="279.98" text-anchor="middle" font-size="3.1" fill="#111">(0.07)</text>
<rect x="103.98" y="237.4" width="15.56" height="79.75" fill="#7bb3e2"/>
<text x="111.46" y="276.68" text-anchor="middle" font-size="3.1" fill="#111">-0.4</text>
<text x="111.46" y="279.98" text-anchor="middle" font-size="3.1" fill="#111">(0.09)</text>
<rect x="118.94" y="237.4" width="15.56" height="79.75" fill="#e8765e"/>
<text x="126.42" y="276.68" text-anchor="middle" font-size="3.1" fill="#111">0.62</text>
<text x="126.42" y="279.98" text-anchor="middle" font-size="3.1" fill="#111">(0.005)</text>
<rect x="133.9" y="237.4" width="15.56" height="79.75" fill="#86bde6"/>
<text x="141.38" y="276.68" text-anchor="middle" font-size="3.1" fill="#111">-0.32</text>
<text x="141.38" y="279.98" text-anchor="middle" font-size="3.1" fill="#111">(0.2)</text>
<rect x="148.86" y="237.4" width="15.56" height="79.75" fill="#e8907e"/>
<text x="156.34" y="276.68" text-anchor="middle" font-size="3.1" fill="#111">0.46</text>
<text x="156.34" y="279.98" text-anchor="middle" font-size="3.1" fill="#111">(0.05)</text>
<rect x="163.82" y="237.4" width="15.56" height="79.75" fill="#e88a76"/>
<text x="171.3" y="276.68" text-anchor="middle" font-size="3.1" fill="#111">0.51</text>
<text x="171.3" y="279.98" text-anchor="middle" font-size="3.1" fill="#111">(0.03)</text>
<rect x="178.78" y="237.4" width="15.56" height="79.75" fill="#e8765e"/>
<text x="186.26" y="276.68" text-anchor="middle" font-size="3.1" fill="#111">0.61</text>
<text x="186.26" y="279.98" text-anchor="middle" font-size="3.1" fill="#111">(0.006)</text>
<rect x="193.74" y="237.4" width="15.56" height="79.75" fill="#7db5e3"/>
<text x="201.22" y="276.68" text-anchor="middle" font-size="3.1" fill="#111">-0.38</text>
<text x="201.22" y="279.98" text-anchor="middle" font-size="3.1" fill="#111">(0.1)</text>
<rect x="208.7" y="237.4" width="15.56" height="79.75" fill="#f7dcd4"/>
<text x="216.18" y="276.68" text-anchor="middle" font-size="3.1" fill="#111">0.14</text>
<text x="216.18" y="279.98" text-anchor="middle" font-size="3.1" fill="#111">(0.6)</text>
<rect x="223.66" y="237.4" width="15.56" height="79.75" fill="#7db5e3"/>
<text x="231.14" y="276.68" text-anchor="middle" font-size="3.1" fill="#111">-0.39</text>
<text x="231.14" y="279.98" text-anchor="middle" font-size="3.1" fill="#111">(0.1)</text>
<rect x="238.62" y="237.4" width="15.56" height="79.75" fill="#c5e2f4"/>
<text x="246.1" y="276.68" text-anchor="middle" font-size="3.1" fill="#111">-0.27</text>
<text x="246.1" y="279.98" text-anchor="middle" font-size="3.1" fill="#111">(0.3)</text>
<rect x="253.58" y="237.4" width="15.56" height="79.75" fill="#e98a72"/>
<text x="261.06" y="276.68" text-anchor="middle" font-size="3.1" fill="#111">0.55</text>
<text x="261.06" y="279.98" text-anchor="middle" font-size="3.1" fill="#111">(0.02)</text>
<rect x="268.54" y="237.4" width="15.56" height="79.75" fill="#e8806a"/>
<text x="276.02" y="276.68" text-anchor="middle" font-size="3.1" fill="#111">0.57</text>
<text x="276.02" y="279.98" text-anchor="middle" font-size="3.1" fill="#111">(0.01)</text>
<rect x="283.5" y="237.4" width="15.56" height="79.75" fill="#b6dbf1"/>
<text x="290.98" y="276.68" text-anchor="middle" font-size="3.1" fill="#111">-0.33</text>
<text x="290.98" y="279.98" text-anchor="middle" font-size="3.1" fill="#111">(0.2)</text>
<rect x="298.46" y="237.4" width="15.56" height="79.75" fill="#f7dcd4"/>
<text x="305.94" y="276.68" text-anchor="middle" font-size="3.1" fill="#111">0.14</text>
<text x="305.94" y="279.98" text-anchor="middle" font-size="3.1" fill="#111">(0.6)</text>
<rect x="313.42" y="237.4" width="15.56" height="79.75" fill="#e87e66"/>
<text x="320.9" y="276.68" text-anchor="middle" font-size="3.1" fill="#111">0.58</text>
<text x="320.9" y="279.98" text-anchor="middle" font-size="3.1" fill="#111">(0.01)</text>
<rect x="328.38" y="237.4" width="14.96" height="79.75" fill="#e87e66"/>
<text x="335.86" y="276.68" text-anchor="middle" font-size="3.1" fill="#111">0.59</text>
<text x="335.86" y="279.98" text-anchor="middle" font-size="3.1" fill="#111">(0.01)</text>
<rect x="48.1" y="316.55" width="9.1" height="79.2" fill="#3451a3"/>
<text x="46.8" y="356.12" dy="0.35em" text-anchor="end" font-size="4.6">MEblue</text>
<rect x="59.1" y="316.55" width="15.56" height="79.75" fill="#e84e2f"/>
<text x="66.58" y="355.82" text-anchor="middle" font-size="3.1" fill="#111">0.83</text>
<text x="66.58" y="359.12" text-anchor="middle" font-size="3.1" fill="#111">(1e-05)</text>
<rect x="74.06" y="316.55" width="15.56" height="79.75" fill="#62a0d8"/>
<text x="81.54" y="355.82" text-anchor="middle" font-size="3.1" fill="#111">-0.7</text>
<text x="81.54" y="359.12" text-anchor="middle" font-size="3.1" fill="#111">(1e-03)</text>
<rect x="89.02" y="316.55" width="15.56" height="79.75" fill="#5898d3"/>
<text x="96.5" y="355.82" text-anchor="middle" font-size="3.1" fill="#111">-0.77</text>
<text x="96.5" y="359.12" text-anchor="middle" font-size="3.1" fill="#111">(2e-04)</text>
<rect x="103.98" y="316.55" width="15.56" height="79.75" fill="#e84e2f"/>
<text x="111.46" y="355.82" text-anchor="middle" font-size="3.1" fill="#111">0.85</text>
<text x="111.46" y="359.12" text-anchor="middle" font-size="3.1" fill="#111">(8e-06)</text>
<rect x="118.94" y="316.55" width="15.56" height="79.75" fill="#5e9dd5"/>
<text x="126.42" y="355.82" text-anchor="middle" font-size="3.1" fill="#111">-0.7</text>
<text x="126.42" y="359.12" text-anchor="middle" font-size="3.1" fill="#111">(1e-03)</text>
<rect x="133.9" y="316.55" width="15.56" height="79.75" fill="#e64a2c"/>
<text x="141.38" y="355.82" text-anchor="middle" font-size="3.1" fill="#111">0.85</text>
<text x="141.38" y="359.12" text-anchor="middle" font-size="3.1" fill="#111">(8e-06)</text>
<rect x="148.86" y="316.55" width="15.56" height="79.75" fill="#6ea8dc"/>
<text x="156.34" y="355.82" text-anchor="middle" font-size="3.1" fill="#111">-0.62</text>
<text x="156.34" y="359.12" text-anchor="middle" font-size="3.1" fill="#111">(0.006)</text>
<rect x="163.82" y="316.55" width="15.56" height="79.75" fill="#65a2da"/>
<text x="171.3" y="355.82" text-anchor="middle" font-size="3.1" fill="#111">-0.72</text>
<text x="171.3" y="359.12" text-anchor="middle" font-size="3.1" fill="#111">(8e-04)</text>
<rect x="178.78" y="316.55" width="15.56" height="79.75" fill="#5e9dd5"/>
<text x="186.26" y="355.82" text-anchor="middle" font-size="3.1" fill="#111">-0.81</text>
<text x="186.26" y="359.12" text-anchor="middle" font-size="3.1" fill="#111">(5e-05)</text>
<rect x="193.74" y="316.55" width="15.56" height="79.75" fill="#e65538"/>
<text x="201.22" y="355.82" text-anchor="middle" font-size="3.1" fill="#111">0.79</text>
<text x="201.22" y="359.12" text-anchor="middle" font-size="3.1" fill="#111">(1e-04)</text>
<rect x="208.7" y="316.55" width="15.56" height="79.75" fill="#9fcbec"/>
<text x="216.18" y="355.82" text-anchor="middle" font-size="3.1" fill="#111">-0.42</text>
<text x="216.18" y="359.12" text-anchor="middle" font-size="3.1" fill="#111">(0.08)</text>
<rect x="223.66" y="316.55" width="15.56" height="79.75" fill="#e64e30"/>
<text x="231.14" y="355.82" text-anchor="middle" font-size="3.1" fill="#111">0.84</text>
<text x="231.14" y="359.12" text-anchor="middle" font-size="3.1" fill="#111">(1e-05)</text>
<rect x="238.62" y="316.55" width="15.56" height="79.75" fill="#f0c5ba"/>
<text x="246.1" y="355.82" text-anchor="middle" font-size="3.1" fill="#111">0.25</text>
<text x="246.1" y="359.12" text-anchor="middle" font-size="3.1" fill="#111">(0.3)</text>
<rect x="253.58" y="316.55" width="15.56" height="79.75" fill="#5a9bd2"/>
<text x="261.06" y="355.82" text-anchor="middle" font-size="3.1" fill="#111">-0.81</text>
<text x="261.06" y="359.12" text-anchor="middle" font-size="3.1" fill="#111">(5e-05)</text>
<rect x="268.54" y="316.55" width="15.56" height="79.75" fill="#5a9bd2"/>
<text x="276.02" y="355.82" text-anchor="middle" font-size="3.1" fill="#111">-0.81</text>
<text x="276.02" y="359.12" text-anchor="middle" font-size="3.1" fill="#111">(5e-05)</text>
<rect x="283.5" y="316.55" width="15.56" height="79.75" fill="#f2cbc1"/>
<text x="290.98" y="355.82" text-anchor="middle" font-size="3.1" fill="#111">0.23</text>
<text x="290.98" y="359.12" text-anchor="middle" font-size="3.1" fill="#111">(0.4)</text>
<rect x="298.46" y="316.55" width="15.56" height="79.75" fill="#6eaadc"/>
<text x="305.94" y="355.82" text-anchor="middle" font-size="3.1" fill="#111">-0.65</text>
<text x="305.94" y="359.12" text-anchor="middle" font-size="3.1" fill="#111">(0.004)</text>
<rect x="313.42" y="316.55" width="15.56" height="79.75" fill="#5a9bd2"/>
<text x="320.9" y="355.82" text-anchor="middle" font-size="3.1" fill="#111">-0.81</text>
<text x="320.9" y="359.12" text-anchor="middle" font-size="3.1" fill="#111">(5e-05)</text>
<rect x="328.38" y="316.55" width="14.96" height="79.75" fill="#5a9bd2"/>
<text x="335.86" y="355.82" text-anchor="middle" font-size="3.1" fill="#111">-0.81</text>
<text x="335.86" y="359.12" text-anchor="middle" font-size="3.1" fill="#111">(5e-05)</text>
<rect x="48.1" y="395.7" width="9.1" height="79.2" fill="#a0282c"/>
<text x="46.8" y="435.28" dy="0.35em" text-anchor="end" font-size="4.6">MEbrown</text>
<rect x="59.1" y="395.7" width="15.56" height="79.75" fill="#f0bfb2"/>
<text x="66.58" y="434.98" text-anchor="middle" font-size="3.1" fill="#111">0.28</text>
<text x="66.58" y="438.28" text-anchor="middle" font-size="3.1" fill="#111">(0.3)</text>
<rect x="74.06" y="395.7" width="15.56" height="79.75" fill="#b8dbf0"/>
<text x="81.54" y="434.98" text-anchor="middle" font-size="3.1" fill="#111">-0.29</text>
<text x="81.54" y="438.28" text-anchor="middle" font-size="3.1" fill="#111">(0.2)</text>
<rect x="89.02" y="395.7" width="15.56" height="79.75" fill="#9ccbea"/>
<text x="96.5" y="434.98" text-anchor="middle" font-size="3.1" fill="#111">-0.4</text>
<text x="96.5" y="438.28" text-anchor="middle" font-size="3.1" fill="#111">(0.09)</text>
<rect x="103.98" y="395.7" width="15.56" height="79.75" fill="#f0b5a6"/>
<text x="111.46" y="434.98" text-anchor="middle" font-size="3.1" fill="#111">0.33</text>
<text x="111.46" y="438.28" text-anchor="middle" font-size="3.1" fill="#111">(0.2)</text>
<rect x="118.94" y="395.7" width="15.56" height="79.75" fill="#b8dbf0"/>
<text x="126.42" y="434.98" text-anchor="middle" font-size="3.1" fill="#111">-0.3</text>
<text x="126.42" y="438.28" text-anchor="middle" font-size="3.1" fill="#111">(0.2)</text>
<rect x="133.9" y="395.7" width="15.56" height="79.75" fill="#eaa592"/>
<text x="141.38" y="434.98" text-anchor="middle" font-size="3.1" fill="#111">0.39</text>
<text x="141.38" y="438.28" text-anchor="middle" font-size="3.1" fill="#111">(0.1)</text>
<rect x="148.86" y="395.7" width="15.56" height="79.75" fill="#b2d8ef"/>
<text x="156.34" y="434.98" text-anchor="middle" font-size="3.1" fill="#111">-0.32</text>
<text x="156.34" y="438.28" text-anchor="middle" font-size="3.1" fill="#111">(0.2)</text>
<rect x="163.82" y="395.7" width="15.56" height="79.75" fill="#b2d8ef"/>
<text x="171.3" y="434.98" text-anchor="middle" font-size="3.1" fill="#111">-0.31</text>
<text x="171.3" y="438.28" text-anchor="middle" font-size="3.1" fill="#111">(0.2)</text>
<rect x="178.78" y="395.7" width="15.56" height="79.75" fill="#b8dbf0"/>
<text x="186.26" y="434.98" text-anchor="middle" font-size="3.1" fill="#111">-0.3</text>
<text x="186.26" y="438.28" text-anchor="middle" font-size="3.1" fill="#111">(0.2)</text>
<rect x="193.74" y="395.7" width="15.56" height="79.75" fill="#eeb0a0"/>
<text x="201.22" y="434.98" text-anchor="middle" font-size="3.1" fill="#111">0.33</text>
<text x="201.22" y="438.28" text-anchor="middle" font-size="3.1" fill="#111">(0.2)</text>
<rect x="208.7" y="395.7" width="15.56" height="79.75" fill="#f5f7fa"/>
<text x="216.18" y="434.98" text-anchor="middle" font-size="3.1" fill="#111">-0.06</text>
<text x="216.18" y="438.28" text-anchor="middle" font-size="3.1" fill="#111">(0.8)</text>
<rect x="223.66" y="395.7" width="15.56" height="79.75" fill="#f0c2b6"/>
<text x="231.14" y="434.98" text-anchor="middle" font-size="3.1" fill="#111">0.28</text>
<text x="231.14" y="438.28" text-anchor="middle" font-size="3.1" fill="#111">(0.3)</text>
<rect x="238.62" y="395.7" width="15.56" height="79.75" fill="#f5dcd4"/>
<text x="246.1" y="434.98" text-anchor="middle" font-size="3.1" fill="#111">0.15</text>
<text x="246.1" y="438.28" text-anchor="middle" font-size="3.1" fill="#111">(0.6)</text>
<rect x="253.58" y="395.7" width="15.56" height="79.75" fill="#b6daf0"/>
<text x="261.06" y="434.98" text-anchor="middle" font-size="3.1" fill="#111">-0.31</text>
<text x="261.06" y="438.28" text-anchor="middle" font-size="3.1" fill="#111">(0.2)</text>
<rect x="268.54" y="395.7" width="15.56" height="79.75" fill="#b6daf0"/>
<text x="276.02" y="434.98" text-anchor="middle" font-size="3.1" fill="#111">-0.31</text>
<text x="276.02" y="438.28" text-anchor="middle" font-size="3.1" fill="#111">(0.2)</text>
<rect x="283.5" y="395.7" width="15.56" height="79.75" fill="#f8ece8"/>
<text x="290.98" y="434.98" text-anchor="middle" font-size="3.1" fill="#111">0.11</text>
<text x="290.98" y="438.28" text-anchor="middle" font-size="3.1" fill="#111">(0.7)</text>
<rect x="298.46" y="395.7" width="15.56" height="79.75" fill="#92c4e8"/>
<text x="305.94" y="434.98" text-anchor="middle" font-size="3.1" fill="#111">-0.5</text>
<text x="305.94" y="438.28" text-anchor="middle" font-size="3.1" fill="#111">(0.03)</text>
<rect x="313.42" y="395.7" width="15.56" height="79.75" fill="#b6daf0"/>
<text x="320.9" y="434.98" text-anchor="middle" font-size="3.1" fill="#111">-0.31</text>
<text x="320.9" y="438.28" text-anchor="middle" font-size="3.1" fill="#111">(0.2)</text>
<rect x="328.38" y="395.7" width="14.96" height="79.75" fill="#b6daf0"/>
<text x="335.86" y="434.98" text-anchor="middle" font-size="3.1" fill="#111">-0.31</text>
<text x="335.86" y="438.28" text-anchor="middle" font-size="3.1" fill="#111">(0.2)</text>
<rect x="48.1" y="474.85" width="9.1" height="79.2" fill="#bfbfbf"/>
<text x="46.8" y="514.43" dy="0.35em" text-anchor="end" font-size="4.6">MEgrey</text>
<rect x="59.1" y="474.85" width="15.56" height="79.15" fill="#f4f6f9"/>
<text x="66.58" y="514.13" text-anchor="middle" font-size="3.1" fill="#111">-0.063</text>
<text x="66.58" y="517.43" text-anchor="middle" font-size="3.1" fill="#111">(0.8)</text>
<rect x="74.06" y="474.85" width="15.56" height="79.15" fill="#fefefe"/>
<text x="81.54" y="514.13" text-anchor="middle" font-size="3.1" fill="#111">0.006</text>
<text x="81.54" y="517.43" text-anchor="middle" font-size="3.1" fill="#111">(1)</text>
<rect x="89.02" y="474.85" width="15.56" height="79.15" fill="#eeb0a2"/>
<text x="96.5" y="514.13" text-anchor="middle" font-size="3.1" fill="#111">0.33</text>
<text x="96.5" y="517.43" text-anchor="middle" font-size="3.1" fill="#111">(0.2)</text>
<rect x="103.98" y="474.85" width="15.56" height="79.15" fill="#e2eef8"/>
<text x="111.46" y="514.13" text-anchor="middle" font-size="3.1" fill="#111">-0.14</text>
<text x="111.46" y="517.43" text-anchor="middle" font-size="3.1" fill="#111">(0.6)</text>
<rect x="118.94" y="474.85" width="15.56" height="79.15" fill="#faf2ef"/>
<text x="126.42" y="514.13" text-anchor="middle" font-size="3.1" fill="#111">0.075</text>
<text x="126.42" y="517.43" text-anchor="middle" font-size="3.1" fill="#111">(0.8)</text>
<rect x="133.9" y="474.85" width="15.56" height="79.15" fill="#cfe4f4"/>
<text x="141.38" y="514.13" text-anchor="middle" font-size="3.1" fill="#111">-0.2</text>
<text x="141.38" y="517.43" text-anchor="middle" font-size="3.1" fill="#111">(0.4)</text>
<rect x="148.86" y="474.85" width="15.56" height="79.15" fill="#ffffff"/>
<text x="156.34" y="514.13" text-anchor="middle" font-size="3.1" fill="#111">0.007</text>
<text x="156.34" y="517.43" text-anchor="middle" font-size="3.1" fill="#111">(1)</text>
<rect x="163.82" y="474.85" width="15.56" height="79.15" fill="#faf2ef"/>
<text x="171.3" y="514.13" text-anchor="middle" font-size="3.1" fill="#111">0.054</text>
<text x="171.3" y="517.43" text-anchor="middle" font-size="3.1" fill="#111">(0.8)</text>
<rect x="178.78" y="474.85" width="15.56" height="79.15" fill="#f7e8e4"/>
<text x="186.26" y="514.13" text-anchor="middle" font-size="3.1" fill="#111">0.1</text>
<text x="186.26" y="517.43" text-anchor="middle" font-size="3.1" fill="#111">(0.7)</text>
<rect x="193.74" y="474.85" width="15.56" height="79.15" fill="#eaf2fa"/>
<text x="201.22" y="514.13" text-anchor="middle" font-size="3.1" fill="#111">-0.085</text>
<text x="201.22" y="517.43" text-anchor="middle" font-size="3.1" fill="#111">(0.7)</text>
<rect x="208.7" y="474.85" width="15.56" height="79.15" fill="#f0c4b8"/>
<text x="216.18" y="514.13" text-anchor="middle" font-size="3.1" fill="#111">0.26</text>
<text x="216.18" y="517.43" text-anchor="middle" font-size="3.1" fill="#111">(0.3)</text>
<rect x="223.66" y="474.85" width="15.56" height="79.15" fill="#d8eaf6"/>
<text x="231.14" y="514.13" text-anchor="middle" font-size="3.1" fill="#111">-0.17</text>
<text x="231.14" y="517.43" text-anchor="middle" font-size="3.1" fill="#111">(0.5)</text>
<rect x="238.62" y="474.85" width="15.56" height="79.15" fill="#f7e2dc"/>
<text x="246.1" y="514.13" text-anchor="middle" font-size="3.1" fill="#111">0.13</text>
<text x="246.1" y="517.43" text-anchor="middle" font-size="3.1" fill="#111">(0.6)</text>
<rect x="253.58" y="474.85" width="15.56" height="79.15" fill="#f7e2dc"/>
<text x="261.06" y="514.13" text-anchor="middle" font-size="3.1" fill="#111">0.13</text>
<text x="261.06" y="517.43" text-anchor="middle" font-size="3.1" fill="#111">(0.6)</text>
<rect x="268.54" y="474.85" width="15.56" height="79.15" fill="#f7e2dc"/>
<text x="276.02" y="514.13" text-anchor="middle" font-size="3.1" fill="#111">0.14</text>
<text x="276.02" y="517.43" text-anchor="middle" font-size="3.1" fill="#111">(0.6)</text>
<rect x="283.5" y="474.85" width="15.56" height="79.15" fill="#f2cdc2"/>
<text x="290.98" y="514.13" text-anchor="middle" font-size="3.1" fill="#111">0.26</text>
<text x="290.98" y="517.43" text-anchor="middle" font-size="3.1" fill="#111">(0.3)</text>
<rect x="298.46" y="474.85" width="15.56" height="79.15" fill="#eaa594"/>
<text x="305.94" y="514.13" text-anchor="middle" font-size="3.1" fill="#111">0.37</text>
<text x="305.94" y="517.43" text-anchor="middle" font-size="3.1" fill="#111">(0.1)</text>
<rect x="313.42" y="474.85" width="15.56" height="79.15" fill="#f5e0da"/>
<text x="320.9" y="514.13" text-anchor="middle" font-size="3.1" fill="#111">0.13</text>
<text x="320.9" y="517.43" text-anchor="middle" font-size="3.1" fill="#111">(0.6)</text>
<rect x="328.38" y="474.85" width="14.96" height="79.15" fill="#f5e0da"/>
<text x="335.86" y="514.13" text-anchor="middle" font-size="3.1" fill="#111">0.13</text>
<text x="335.86" y="517.43" text-anchor="middle" font-size="3.1" fill="#111">(0.6)</text>
<text transform="translate(68.08,558.5) rotate(-45)" text-anchor="end" font-size="4.2">Moisture</text>
<text transform="translate(83.04,558.5) rotate(-45)" text-anchor="end" font-size="4.2">Crude protein</text>
<text transform="translate(98,558.5) rotate(-45)" text-anchor="end" font-size="4.2">Crude lipid</text>
<text transform="translate(112.96,558.5) rotate(-45)" text-anchor="end" font-size="4.2">Ash</text>
<text transform="translate(127.92,558.5) rotate(-45)" text-anchor="end" font-size="4.2">pH</text>
<text transform="translate(142.88,558.5) rotate(-45)" text-anchor="end" font-size="4.2">LD</text>
<text transform="translate(157.84,558.5) rotate(-45)" text-anchor="end" font-size="4.2">GLY</text>
<text transform="translate(172.8,558.5) rotate(-45)" text-anchor="end" font-size="4.2">ADP</text>
<text transform="translate(187.76,558.5) rotate(-45)" text-anchor="end" font-size="4.2">AMP</text>
<text transform="translate(202.72,558.5) rotate(-45)" text-anchor="end" font-size="4.2">IMP</text>
<text transform="translate(217.68,558.5) rotate(-45)" text-anchor="end" font-size="4.2">HxR</text>
<text transform="translate(232.64,558.5) rotate(-45)" text-anchor="end" font-size="4.2">Hx</text>
<text transform="translate(247.6,558.5) rotate(-45)" text-anchor="end" font-size="4.2">Total amount</text>
<text transform="translate(262.56,558.5) rotate(-45)" text-anchor="end" font-size="4.2">Shear force</text>
<text transform="translate(277.52,558.5) rotate(-45)" text-anchor="end" font-size="4.2">L</text>
<text transform="translate(292.48,558.5) rotate(-45)" text-anchor="end" font-size="4.2">a</text>
<text transform="translate(307.44,558.5) rotate(-45)" text-anchor="end" font-size="4.2">b</text>
<text transform="translate(322.4,558.5) rotate(-45)" text-anchor="end" font-size="4.2">W</text>
<text transform="translate(337.36,558.5) rotate(-45)" text-anchor="end" font-size="4.2">WHC</text>
<defs><linearGradient id="cb" x1="0" y1="0" x2="0" y2="1"><stop offset="0" stop-color="#e6381c"/><stop offset="0.25" stop-color="#f2a08a"/><stop offset="0.5" stop-color="#ffffff"/><stop offset="0.75" stop-color="#a3c9ec"/><stop offset="1" stop-color="#4a88cc"/></linearGradient></defs>
<rect x="346.8" y="256.6" width="4.1" height="278.5" fill="url(#cb)" stroke="#999" stroke-width="0.4"/>
<line x1="350.9" y1="256.6" x2="354" y2="256.6" stroke="#555" stroke-width="0.6"/>
<text x="354.7" y="256.6" dy="0.36em" font-size="6.2" fill="#222">1</text>
<line x1="350.9" y1="326.3" x2="354" y2="326.3" stroke="#555" stroke-width="0.6"/>
<text x="354.7" y="326.3" dy="0.36em" font-size="6.2" fill="#222">0.5</text>
<line x1="350.9" y1="396" x2="354" y2="396" stroke="#555" stroke-width="0.6"/>
<text x="354.7" y="396" dy="0.36em" font-size="6.2" fill="#222">0</text>
<line x1="350.9" y1="465.5" x2="354" y2="465.5" stroke="#555" stroke-width="0.6"/>
<text x="354.7" y="465.5" dy="0.36em" font-size="6.2" fill="#222">-0.5</text>
<line x1="350.9" y1="535.1" x2="354" y2="535.1" stroke="#555" stroke-width="0.6"/>
<text x="354.7" y="535.1" dy="0.36em" font-size="6.2" fill="#222">-1</text>
<path d="M422.9 502.8L473.4 419.1M579.2 384.7Q528.5 365.6 478.7 344.3M579.2 384.7L551.6 331.5M399.3 323.7L590.6 532.4M590.6 532.4L540.8 250.1M662.3 460.6L493.6 356.9M381.7 372.1Q488.2 411 599.2 388.2M526.3 475L501 470.5M641.5 493.3L599.2 413.8M393.4 460.6Q460.2 464.4 526.3 475M551.6 470.5Q574.8 409.5 573.9 344.3M442.7 519.5Q525 444.4 573.9 344.3M477.1 537.4L599.2 413.8M613 276.3L551.6 470.5M540.8 250.1Q510.3 327.5 453.4 388.2M590.4 438L590.4 364M453.4 388.2L478.7 457.7M551.6 470.5L493.6 446.9M406.3 483Q447.4 418.2 493.6 356.9M590.4 438L501 470.5M676.2 397.9Q584.2 423.6 501 470.5M489.4 541.2Q451.8 456.3 462.2 364M501 331.5Q473.9 381.9 462.2 438M578.6 537.4L453.4 388.2M578.6 258.4Q503.8 289.4 422.9 293M526.3 346.3L599.2 388.2M662.3 335.2L599.2 413.8M380 410.8Q430.4 495.4 514.9 545.7M671.2 436.3L478.7 344.3M477.1 537.4Q468.1 450.8 462.2 364M590.4 364L462.2 438M667.3 448.7L579.2 384.7M599.2 413.8L573.9 344.3M502.1 251.8L493.6 356.9M422.9 502.8L578.6 258.4M540.8 545.7L473.4 384.7M514.9 545.7L501 470.5M540.8 250.1L462.2 364M540.8 545.7Q467.1 440.4 393.4 335.2M422.9 502.8Q448.7 477.7 478.7 457.7M453.4 413.8L478.7 457.7M478.7 344.3L599.2 388.2M414.2 493.3Q387.4 404 406.3 312.8M380 410.8L599.2 413.8M478.7 344.3L579.2 419.1M502.1 251.8L493.6 446.9M566.3 254.6Q611.9 367.3 649.4 483M623.2 511.6L493.6 446.9M590.6 263.4L462.2 364M662.3 460.6Q548.8 440.2 462.2 364M399.3 472.1L579.2 419.1M602.1 526.4L559 446.9M384.5 436.3L540.8 545.7M559 446.9L473.4 384.7M501 331.5Q531.5 340.6 559 356.9M514.9 545.7L478.7 457.7M477.1 258.4L478.7 457.7M399.3 472.1L406.3 312.8M559 356.9L573.9 344.3M526.3 327Q492.1 381.2 462.2 438M676.2 397.9L501 470.5M462.2 438L453.4 413.8M514.9 545.7L406.3 312.8M674 423.7L559 356.9M502.1 544Q456.2 459.8 462.2 364M526.3 475L462.2 364M566.3 254.6L671.2 359.5M573.9 457.7Q552 471.5 526.3 475M406.3 312.8L501 331.5M399.3 323.7Q484.4 278.6 578.6 258.4M399.3 323.7L478.7 344.3M671.2 359.5L526.3 327M477.1 258.4Q529.5 347.7 559 446.9M393.4 335.2L478.7 457.7M674 372.1Q613.5 349.8 551.6 331.5M662.3 335.2L579.2 419.1M473.4 384.7L462.2 438M649.4 483L526.3 475M502.1 544Q501.1 462 473.4 384.7M399.3 323.7Q463.8 398.5 526.3 475M422.9 293L501 470.5M489.4 254.6Q469.9 335.7 473.4 419.1M566.3 254.6L501 470.5M462.2 438L559 446.9M671.2 359.5L623.2 511.6M590.4 364L559 446.9M559 446.9Q508.2 414 453.4 388.2M674 423.7L573.9 344.3M662.3 335.2L399.3 472.1M671.2 359.5L384.5 436.3M380 385Q516.9 357 649.4 312.8M406.3 483Q469.6 398.3 551.6 331.5M432.5 284.2L526.3 475M623.2 511.6Q584.2 496.7 551.6 470.5M526.3 475L478.7 344.3M493.6 356.9L478.7 457.7M674 372.1Q620 415 559 446.9M578.6 258.4L573.9 344.3M388.4 347.1L573.9 457.7M465.1 532.4L590.4 364M393.4 460.6L602.1 269.4M453.4 413.8L579.2 419.1M641.5 302.5L579.2 419.1M526.3 475L501 470.5M393.4 460.6Q430 456.1 462.2 438M380 385L493.6 356.9M656.4 323.7Q604.7 336.9 551.6 331.5M406.3 312.8Q421.2 411.9 432.5 511.6M559 356.9Q506.9 386.6 453.4 413.8M393.4 460.6L493.6 356.9M578.6 537.4Q603.6 433.2 667.3 347.1M602.1 526.4L578.6 258.4M559 446.9L526.3 327M675.7 410.8L590.4 364M388.4 347.1Q473.1 411.4 579.2 419.1M566.3 254.6L613 519.5M414.2 493.3Q496 454.6 579.2 419.1M393.4 335.2L674 423.7M641.5 493.3L590.6 263.4M553.6 544L526.3 327M381.7 423.7Q490.6 421.9 599.2 413.8M478.7 344.3L526.3 346.3M632.8 293L602.1 526.4M399.3 323.7L551.6 331.5M422.9 293L462.2 438M602.1 269.4L551.6 331.5M442.7 276.3Q426.4 361 384.5 436.3M473.4 419.1Q539.9 408.6 590.4 364M632.8 293L632.8 502.8M422.9 502.8L462.2 364M453.6 269.4Q533.3 308.7 579.2 384.7M384.5 359.5L473.4 384.7M675.7 385L526.3 475M566.3 541.2L473.4 384.7M477.1 258.4L641.5 302.5M379.5 397.9L526.3 346.3M422.9 293Q528.3 397.6 590.6 532.4M406.3 483Q544.2 423.6 656.4 323.7M514.9 250.1L526.3 327M674 372.1Q597.4 375 526.3 346.3M553.6 251.8Q544.4 355.2 526.3 457.5M399.3 472.1Q428.2 346 514.9 250.1M566.3 541.2L422.9 293M514.9 250.1Q531 287 526.3 327M559 356.9Q542 342.7 526.3 327M453.7 526.4Q467.9 492.7 478.7 457.7M526.3 457.5Q561.3 412.8 590.4 364M676.2 397.9L453.4 388.2M379.5 397.9Q484.4 377.5 590.4 364M380 385L671.2 436.3M674 423.7L501 331.5M527.9 249.5Q547.1 313.3 590.4 364M641.5 493.3Q587.8 407.5 526.3 327M422.9 502.8L462.2 438M649.4 483L502.1 544M602.1 526.4L478.7 457.7M613 276.3L422.9 293M602.1 526.4L414.2 302.5M388.4 448.7L656.4 323.7M649.4 483L465.1 532.4M477.1 258.4Q526.9 300.3 559 356.9M662.3 335.2L478.7 344.3M393.4 460.6Q440.9 374.9 526.3 327M393.4 460.6L478.7 344.3M384.5 436.3L453.4 388.2M559 446.9L501 331.5M380 410.8L478.7 457.7M453.6 269.4Q576 357.5 641.5 493.3M540.8 250.1L551.6 470.5M502.1 544L478.7 457.7M526.3 457.5L559 356.9M453.6 269.4L649.4 312.8M489.4 254.6L379.5 397.9M465.1 263.4L641.5 493.3M393.4 460.6Q446.6 471.7 501 470.5M406.3 483L573.9 457.7M632.8 293Q619.1 354.3 599.2 413.8M380 410.8L573.9 457.7M590.6 532.4L526.3 475M453.7 526.4L662.3 460.6M514.9 545.7L514.9 250.1M656.4 472.1L465.1 532.4M453.7 526.4Q499.3 501.8 526.3 457.5M453.6 269.4Q540.7 300 632.8 293M613 519.5L559 446.9M656.4 323.7Q591.7 338.7 526.3 327M675.7 410.8L406.3 483M381.7 372.1L465.1 532.4M559 446.9L501 331.5M662.3 335.2Q586.5 420.4 478.7 457.7M406.3 483L667.3 448.7M641.5 302.5L573.9 457.7M399.3 472.1Q467 403.2 526.3 327M527.9 249.5L462.2 364M632.8 293L462.2 364M514.9 545.7Q519.2 436.3 526.3 327M649.4 483L501 470.5M422.9 293L649.4 312.8M442.7 519.5L623.2 284.2M380 410.8Q483.4 483.3 602.1 526.4M656.4 323.7L502.1 251.8M501 331.5L493.6 356.9M573.9 344.3L453.4 388.2M526.3 327L473.4 384.7M553.6 251.8Q540.9 289.7 526.3 327M453.6 269.4Q520.1 296.7 573.9 344.3M453.4 388.2L526.3 327M540.8 545.7L399.3 323.7M388.4 448.7L432.5 284.2M578.6 258.4Q570 349.2 590.4 438M380 385Q416.1 419.3 462.2 438M442.7 519.5Q548.2 437 676.2 397.9M573.9 344.3Q529 403.2 478.7 457.7M399.3 323.7Q398.3 409.2 414.2 493.3M671.2 436.3Q534.8 375.8 388.4 347.1M381.7 423.7Q526.8 374.8 675.7 410.8M501 470.5L559 356.9M632.8 293L478.7 457.7M662.3 460.6Q514 460.5 379.5 397.9M453.7 526.4Q468.7 484.2 493.6 446.9M559 446.9Q516.5 395.9 501 331.5M406.3 483L526.3 475M381.7 372.1Q438 366.8 493.6 356.9M675.7 385L573.9 457.7M540.8 250.1L526.3 327M432.5 284.2L559 446.9M613 276.3L473.4 419.1M514.9 250.1L526.3 475M671.2 359.5L406.3 483M671.2 436.3L526.3 346.3M384.5 359.5L613 276.3M393.4 460.6L590.4 364M502.1 251.8L406.3 483M432.5 511.6L623.2 284.2M641.5 493.3L526.3 346.3M676.2 397.9L478.7 457.7M540.8 545.7L406.3 312.8M566.3 541.2L551.6 470.5M393.4 460.6L599.2 413.8M566.3 541.2L381.7 372.1M559 356.9L599.2 388.2M478.7 457.7Q488.2 394.3 501 331.5M422.9 293L579.2 419.1M381.7 423.7L671.2 359.5M381.7 372.1L559 356.9M667.3 347.1Q607.6 391 559 446.9M623.2 284.2Q505.4 314 388.4 347.1M623.2 284.2L579.2 384.7M384.5 436.3Q443.3 482.4 489.4 541.2M465.1 532.4L453.6 269.4M399.3 472.1L599.2 388.2M501 470.5Q515.9 406.6 559 356.9M641.5 302.5L579.2 384.7M388.4 448.7Q498.1 457.5 599.2 413.8M478.7 457.7Q493.4 389 526.3 327M477.1 258.4L590.4 438M380 410.8L501 331.5M526.3 475Q534.1 413.6 559 356.9M453.6 269.4L551.6 470.5M649.4 312.8Q555.6 334.5 473.4 384.7M662.3 335.2L493.6 356.9M526.3 346.3Q553.2 390.4 599.2 413.8M453.7 526.4L526.3 457.5M453.7 526.4Q542.4 412.5 656.4 323.7M381.7 423.7Q467.5 359.1 573.9 344.3M656.4 323.7L432.5 284.2M632.8 293L573.9 457.7M501 331.5L526.3 475M465.1 532.4L478.7 457.7M662.3 335.2L599.2 413.8M477.1 258.4Q557.2 317.3 656.4 323.7M380 385Q485.5 377.7 590.4 364M453.4 413.8Q502.9 373.1 551.6 331.5M462.2 438L579.2 419.1M501 470.5L473.4 419.1M489.4 541.2L602.1 269.4M489.4 541.2L453.4 388.2M432.5 284.2Q478.4 386.1 551.6 470.5M656.4 323.7L599.2 388.2M662.3 335.2L453.4 388.2M578.6 537.4L559 356.9M406.3 312.8Q492.4 359.7 590.4 364M602.1 269.4L501 331.5M566.3 254.6L442.7 519.5M414.2 302.5L493.6 356.9M526.3 475Q556 419.7 559 356.9M380 410.8L514.9 545.7M599.2 388.2L526.3 475M578.6 258.4L526.3 327M380 410.8L527.9 546.3M579.2 419.1Q518.5 394.9 453.4 388.2M540.8 250.1L599.2 413.8M477.1 258.4L473.4 419.1M406.3 483Q456.3 385.5 551.6 331.5M526.3 457.5Q556.4 441.4 590.4 438M384.5 436.3Q480.6 405.7 579.2 384.7M579.2 384.7L551.6 470.5M602.1 526.4L623.2 284.2M380 385Q455.9 376 526.3 346.3M502.1 251.8L493.6 446.9M613 276.3L551.6 470.5M379.5 397.9L613 276.3M453.6 269.4Q507.1 317.5 573.9 344.3M393.4 335.2L473.4 384.7M641.5 493.3L526.3 327M432.5 284.2L590.4 438M649.4 483L590.4 364M599.2 413.8L573.9 457.7M613 276.3Q527.7 397.8 502.1 544M667.3 347.1L462.2 438M566.3 254.6L540.8 545.7M553.6 544Q515.8 500.3 493.6 446.9M380 410.8L473.4 384.7M381.7 372.1Q458.4 407.3 526.3 457.5M590.6 263.4L656.4 472.1M599.2 413.8L478.7 457.7M380 385L478.7 457.7M662.3 460.6L526.3 327M662.3 335.2Q592.5 394.3 526.3 457.5M473.4 384.7L501 470.5M462.2 364L599.2 388.2M526.3 457.5L559 356.9M551.6 470.5L473.4 419.1M501 470.5L559 356.9M388.4 448.7L453.4 413.8M526.3 327L573.9 457.7M442.7 276.3L632.8 293M641.5 302.5L579.2 419.1M641.5 302.5Q599.1 391.3 526.3 457.5M590.6 263.4L526.3 475M453.6 269.4L573.9 344.3M579.2 419.1Q579 401.9 579.2 384.7M590.4 438Q520.8 416.2 453.4 388.2M632.8 293L579.2 419.1M473.4 384.7L573.9 344.3M674 423.7L478.7 457.7M442.7 519.5Q477 441 493.6 356.9M656.4 323.7L473.4 384.7M384.5 359.5L559 446.9M388.4 347.1L473.4 384.7M442.7 276.3Q460.5 310.4 478.7 344.3M453.4 413.8Q515.9 425.1 579.2 419.1M590.4 364Q596.1 375.6 599.2 388.2M662.3 335.2Q639.2 381.3 599.2 413.8M662.3 335.2L526.3 346.3M613 519.5L551.6 331.5M453.7 526.4L465.1 263.4M388.4 448.7L473.4 384.7M578.6 258.4L599.2 413.8M493.6 356.9Q526.3 355.7 559 356.9M442.7 519.5L667.3 347.1M551.6 470.5Q582.8 433.6 599.2 388.2M422.9 502.8Q492 505.4 551.6 470.5M675.7 410.8L380 385M671.2 359.5L526.3 475M656.4 472.1Q520.4 454.3 384.5 436.3M432.5 284.2L526.3 327M489.4 541.2Q545.9 456 590.4 364M578.6 258.4L553.6 544M623.2 511.6L453.7 526.4M388.4 347.1Q460.2 280.7 553.6 251.8M489.4 541.2Q556.6 426.7 671.2 359.5M671.2 436.3Q615.9 494 553.6 544M399.3 323.7Q450.9 327.7 493.6 356.9M514.9 250.1L590.4 438M527.9 546.3Q481.9 459.9 462.2 364M671.2 359.5Q606.2 419.5 526.3 457.5M414.2 302.5L526.3 327M465.1 532.4L478.7 344.3M632.8 502.8L493.6 356.9M384.5 359.5L599.2 388.2M649.4 483L573.9 457.7M649.4 312.8Q616.7 387.9 573.9 457.7M632.8 502.8L526.3 475M414.2 302.5L573.9 457.7M578.6 537.4L573.9 344.3M489.4 254.6Q524.9 326.1 579.2 384.7M399.3 323.7L478.7 344.3M674 423.7L489.4 541.2M493.6 356.9L559 356.9M656.4 472.1L453.4 388.2M662.3 335.2L559 356.9M422.9 293Q566.2 343.1 662.3 460.6M674 423.7L540.8 545.7M573.9 344.3L579.2 384.7M590.6 532.4L526.3 327M473.4 419.1L462.2 438M675.7 410.8L462.2 438M406.3 312.8Q450.9 336 501 331.5M590.6 263.4L590.4 438M453.7 526.4L478.7 344.3M674 423.7L462.2 438M613 519.5L526.3 346.3M613 276.3L526.3 475M667.3 448.7L493.6 446.9M414.2 302.5L453.4 388.2M623.2 511.6Q621.5 447.9 599.2 388.2M489.4 254.6L579.2 384.7M599.2 388.2L526.3 327M675.7 385L590.4 364M573.9 344.3L473.4 384.7M590.4 364Q534.8 397.1 493.6 446.9M453.6 269.4L579.2 384.7M623.2 511.6L599.2 413.8M514.9 250.1Q477.6 358.4 501 470.5M422.9 293Q486.7 314.1 551.6 331.5M573.9 457.7L453.4 388.2M406.3 312.8Q500.6 373.1 573.9 457.7M527.9 249.5Q537.7 362.8 501 470.5M602.1 526.4L478.7 457.7M590.4 364L579.2 384.7M590.6 263.4L599.2 388.2M590.4 364Q524.5 390.6 453.4 388.2M573.9 457.7Q538.6 471 501 470.5M379.5 397.9Q423.7 412 462.2 438M559 446.9L462.2 438M526.3 327Q515.1 399 501 470.5M579.2 384.7L599.2 388.2M493.6 356.9Q512.2 415.3 526.3 475M526.3 327L453.4 388.2M399.3 323.7Q491.5 359.8 590.4 364M379.5 397.9Q519.4 349.9 667.3 347.1M559 356.9L462.2 438M399.3 323.7L478.7 344.3M393.4 335.2L442.7 519.5M462.2 364Q495.6 426.7 551.6 470.5M623.2 284.2Q565.6 369 551.6 470.5M514.9 545.7L559 446.9M393.4 335.2L551.6 331.5M379.5 397.9L453.6 269.4M641.5 493.3Q555.5 496.8 478.7 457.7M662.3 460.6L573.9 457.7M579.2 384.7L462.2 364M453.4 388.2L599.2 413.8M393.4 335.2Q461.4 403.6 526.3 475M414.2 493.3L473.4 384.7M573.9 457.7L573.9 344.3M406.3 483L526.3 475M671.2 436.3Q582.8 395.8 493.6 356.9M553.6 544L453.4 413.8M559 356.9L599.2 413.8M526.3 327L501 470.5M649.4 483L379.5 397.9M399.3 323.7L579.2 419.1M656.4 472.1Q565.9 485.5 478.7 457.7M381.7 423.7Q437.4 457.2 501 470.5M671.2 436.3L573.9 457.7M551.6 331.5L493.6 446.9M422.9 293L422.9 502.8M676.2 397.9L453.7 526.4M671.2 436.3Q564.4 406.8 462.2 364M551.6 470.5L579.2 384.7M656.4 472.1L590.4 364M553.6 251.8L453.7 526.4M553.6 251.8L493.6 356.9M380 385L579.2 419.1M559 446.9Q533.9 383.8 478.7 344.3M641.5 493.3L559 356.9M406.3 312.8L527.9 546.3M388.4 347.1L501 470.5M578.6 258.4L526.3 475M514.9 250.1L493.6 446.9M662.3 335.2L381.7 423.7M414.2 493.3L599.2 388.2M399.3 323.7L559 356.9M578.6 537.4L590.4 364M473.4 419.1L526.3 457.5M667.3 347.1Q548.9 303.1 422.9 293M674 372.1L579.2 384.7M602.1 269.4Q534.8 355.9 462.2 438M381.7 372.1Q495.4 295.1 632.8 293M641.5 493.3L526.3 346.3M380 385L478.7 344.3M613 519.5L599.2 388.2M422.9 293L526.3 327M381.7 423.7Q482.6 415 579.2 384.7M578.6 258.4Q522.6 341.4 453.4 413.8M406.3 312.8L462.2 364M432.5 511.6L399.3 323.7M379.5 397.9L590.4 364M381.7 423.7Q475.2 377.6 573.9 344.3M442.7 276.3Q507.8 350.6 599.2 388.2M453.4 413.8L493.6 446.9M406.3 483L590.4 438M465.1 532.4L674 372.1M649.4 483L381.7 372.1M527.9 249.5L406.3 483M422.9 293L573.9 344.3M477.1 537.4L667.3 448.7M623.2 284.2Q606.5 336.8 579.2 384.7M473.4 384.7L590.4 364M493.6 356.9L526.3 327M393.4 335.2L566.3 254.6M667.3 347.1L551.6 331.5M399.3 323.7Q456.1 393 501 470.5M453.4 388.2Q496 377.9 526.3 346.3M599.2 413.8Q594.1 425.7 590.4 438M553.6 251.8L579.2 419.1M462.2 364Q537 382.5 590.4 438M675.7 410.8L599.2 388.2M599.2 413.8L501 470.5M566.3 541.2L590.4 438M579.2 419.1L559 446.9M671.2 436.3Q563.1 410.5 462.2 364M578.6 537.4L676.2 397.9M573.9 344.3L590.4 364M414.2 493.3Q484.8 516.1 553.6 544M573.9 457.7L579.2 419.1M613 519.5Q519.9 470 453.4 388.2M579.2 419.1L478.7 457.7M379.5 397.9Q466 317.3 566.3 254.6M667.3 347.1L527.9 249.5M465.1 532.4L559 446.9M590.4 364L501 470.5M422.9 293L462.2 438M489.4 541.2L473.4 384.7M632.8 502.8L453.4 413.8M551.6 331.5L573.9 344.3M406.3 483L501 331.5M578.6 537.4Q649.7 468.2 674 372.1M632.8 293L599.2 388.2M566.3 541.2L526.3 457.5M579.2 384.7Q518.2 407.4 453.4 413.8M453.4 388.2Q449.8 401 453.4 413.8M599.2 388.2L590.4 438M613 519.5Q539.4 436.8 478.7 344.3M380 410.8L473.4 384.7M540.8 545.7Q550.1 496.4 559 446.9M388.4 448.7L623.2 284.2M393.4 460.6L590.4 364M667.3 448.7L526.3 327M649.4 483L526.3 327M579.2 384.7Q546.8 433.8 501 470.5M502.1 251.8Q514.8 289.2 526.3 327M432.5 511.6L559 356.9M514.9 250.1Q540.5 337 579.2 419.1M667.3 448.7L453.4 413.8M406.3 483Q477.6 424.6 526.3 346.3M590.4 438L493.6 356.9M540.8 250.1L599.2 388.2M388.4 347.1L501 470.5M632.8 502.8Q514.4 423.7 381.7 372.1M388.4 347.1L573.9 344.3M540.8 545.7Q558.5 497.9 559 446.9M641.5 302.5L566.3 541.2M613 519.5L493.6 446.9M399.3 323.7L453.4 413.8M393.4 335.2Q443.3 437.3 489.4 541.2M559 356.9Q543 350.4 526.3 346.3M393.4 335.2L573.9 344.3M579.2 384.7L473.4 384.7M623.2 511.6L590.4 438M465.1 532.4L579.2 384.7M527.9 546.3L599.2 388.2M559 446.9Q518.3 447.9 478.7 457.7M406.3 483L590.4 438M393.4 460.6L526.3 346.3M671.2 436.3Q585.1 357.8 540.8 250.1M501 470.5L453.4 413.8M388.4 448.7Q442.9 404.9 493.6 356.9M599.2 388.2Q537.6 369.9 478.7 344.3M676.2 397.9Q568.5 310.7 432.5 284.2M579.2 419.1Q582.3 381.3 573.9 344.3M379.5 397.9L590.4 438M399.3 323.7L493.6 446.9M478.7 344.3L478.7 457.7M599.2 413.8L526.3 475M573.9 344.3Q533.4 348.7 493.6 356.9M590.6 263.4L442.7 519.5M477.1 258.4Q524.6 324.4 579.2 384.7M590.6 263.4L473.4 419.1M656.4 323.7Q620.1 363.9 599.2 413.8M553.6 251.8Q519.6 348.1 493.6 446.9M566.3 541.2L675.7 385M514.9 250.1L526.3 475M526.3 475L551.6 331.5M599.2 388.2L526.3 475M478.7 457.7L573.9 457.7M671.2 436.3L573.9 457.7M414.2 302.5L473.4 419.1M599.2 388.2Q579.1 420.2 573.9 457.7M676.2 397.9L526.3 457.5M489.4 541.2L501 331.5M501 331.5L453.4 413.8M662.3 460.6L502.1 544M553.6 544Q545.4 450.2 559 356.9M602.1 269.4Q556.2 360.1 473.4 419.1M656.4 472.1L414.2 302.5M599.2 413.8Q543.3 420.4 493.6 446.9M462.2 438Q453 413.9 453.4 388.2M422.9 502.8L559 446.9M590.6 532.4L465.1 263.4M632.8 293Q542.1 350.8 493.6 446.9M514.9 250.1L590.4 438M579.2 384.7Q516.9 401.8 453.4 413.8M393.4 335.2Q497 358.6 599.2 388.2M540.8 250.1Q538 349.6 559 446.9M380 385Q453.5 367 526.3 346.3M502.1 251.8L493.6 446.9M649.4 312.8Q612.9 330.3 590.4 364M526.3 475Q557.6 455.3 590.4 438M667.3 448.7L453.7 526.4M566.3 541.2Q490.8 494.4 453.4 413.8M442.7 519.5L551.6 331.5M566.3 254.6L526.3 475M526.3 457.5L599.2 413.8M477.1 537.4Q471.9 497.4 478.7 457.7M478.7 457.7L599.2 413.8M559 356.9Q526.3 357.3 493.6 356.9M406.3 312.8L559 356.9M559 446.9L551.6 470.5M478.7 344.3Q518.2 354.7 559 356.9M632.8 502.8Q514.8 471.7 393.4 460.6M442.7 276.3L462.2 364M432.5 284.2L462.2 438M477.1 258.4L579.2 419.1M514.9 545.7L478.7 457.7M559 446.9L462.2 364M590.6 263.4Q589.8 326.1 599.2 388.2M462.2 438Q480 398.3 493.6 356.9M667.3 347.1L599.2 388.2M656.4 472.1Q578.5 488.2 501 470.5M590.4 438Q585.3 428.2 579.2 419.1M578.6 258.4L501 331.5M502.1 251.8L501 331.5M388.4 448.7L493.6 356.9M526.3 346.3L462.2 364M406.3 312.8L632.8 293M526.3 457.5L478.7 457.7M623.2 511.6L590.4 364M465.1 263.4L590.4 438M602.1 269.4L473.4 384.7M393.4 335.2Q435.2 347.4 478.7 344.3M551.6 331.5Q572 384.4 590.4 438M381.7 372.1Q525.5 343.3 671.2 359.5M578.6 537.4Q584.5 474.9 599.2 413.8M379.5 397.9L599.2 413.8M632.8 502.8L579.2 384.7M613 276.3L526.3 457.5M422.9 293L514.9 545.7M477.1 537.4L579.2 419.1M406.3 312.8L493.6 446.9M489.4 254.6Q465.3 389.7 453.7 526.4M641.5 302.5L453.4 413.8M526.3 327Q535.5 392.2 526.3 457.5M566.3 254.6L578.6 537.4M566.3 541.2L478.7 344.3M675.7 385L501 331.5M566.3 254.6L599.2 388.2M406.3 483L662.3 460.6M540.8 545.7L493.6 446.9M384.5 436.3L662.3 460.6M671.2 436.3Q613.9 429.3 559 446.9M573.9 344.3Q536.8 404.8 526.3 475M602.1 269.4Q485.4 365.4 422.9 502.8M381.7 423.7Q472.7 371.8 573.9 344.3M656.4 323.7L579.2 419.1M599.2 413.8L573.9 344.3M667.3 347.1L526.3 327M599.2 413.8Q566.3 441.7 526.3 457.5M566.3 254.6Q470.6 275.1 393.4 335.2M502.1 251.8L599.2 388.2M590.6 263.4Q536.3 285 501 331.5M579.2 384.7Q528.5 404.9 493.6 446.9M641.5 493.3L462.2 364M380 385Q471 465.7 566.3 541.2M465.1 263.4L501 470.5M671.2 436.3Q585.8 367.7 478.7 344.3M502.1 251.8L526.3 475M662.3 460.6L489.4 254.6M388.4 448.7Q460 376.2 551.6 331.5M632.8 293L453.4 413.8M432.5 284.2Q507.1 332.8 590.4 364M526.3 457.5L473.4 384.7M465.1 263.4L514.9 545.7M442.7 276.3Q476.1 378.5 559 446.9M632.8 502.8L493.6 356.9M478.7 457.7Q464.2 411.9 462.2 364M641.5 493.3L453.4 413.8M649.4 483Q561.5 487.7 478.7 457.7M602.1 269.4Q529.2 336.9 473.4 419.1M399.3 323.7Q464 387.5 501 470.5M465.1 532.4Q525.3 451.7 559 356.9M667.3 347.1Q514.1 336 380 410.8M675.7 385L473.4 384.7M493.6 446.9L478.7 344.3M551.6 331.5Q524.2 400.6 526.3 475M553.6 251.8Q579.6 348.7 559 446.9M432.5 511.6L566.3 254.6M527.9 546.3Q529.4 505.2 551.6 470.5M566.3 541.2L526.3 327M453.7 526.4L551.6 331.5M662.3 460.6L453.4 413.8M641.5 302.5L501 331.5M590.6 263.4L667.3 448.7M514.9 250.1L559 446.9M442.7 519.5L526.3 457.5M613 519.5L573.9 457.7M406.3 312.8Q460.9 397.9 526.3 475M590.6 263.4L453.4 388.2M527.9 546.3L573.9 344.3M632.8 293Q606.4 322.2 573.9 344.3M566.3 254.6L573.9 344.3M656.4 323.7L453.4 388.2M526.3 346.3Q503.1 370 473.4 384.7M667.3 347.1L473.4 419.1M502.1 251.8L501 470.5M502.1 544Q500.2 443 478.7 344.3M453.7 526.4L526.3 327M489.4 541.2Q499 442.1 526.3 346.3M406.3 312.8L478.7 344.3M381.7 423.7L477.1 537.4M553.6 251.8Q487.1 334.7 462.2 438M380 410.8L493.6 356.9M675.7 385L590.4 364M667.3 448.7L462.2 364M602.1 269.4L573.9 344.3M667.3 347.1L501 470.5M388.4 448.7Q432.4 438.2 473.4 419.1M526.3 457.5L493.6 446.9M579.2 384.7Q515.9 372.3 453.4 388.2M393.4 335.2Q530.9 390.4 667.3 448.7M649.4 483L526.3 327M599.2 388.2Q576.2 376.2 559 356.9M540.8 250.1L502.1 544M551.6 331.5L473.4 384.7M662.3 335.2L590.4 364M453.4 413.8L559 446.9M442.7 276.3L514.9 545.7M422.9 293L551.6 331.5M384.5 436.3L590.4 364M623.2 511.6Q574.8 484.5 526.3 457.5M432.5 511.6Q518 488.8 590.4 438M578.6 258.4L573.9 457.7M551.6 470.5L573.9 344.3M399.3 323.7L493.6 356.9M566.3 541.2L453.4 388.2M514.9 545.7L649.4 312.8M489.4 541.2L599.2 413.8M526.3 457.5L526.3 327M578.6 537.4L526.3 327M675.7 385Q636.4 396.8 599.2 413.8M380 410.8L501 331.5M674 423.7Q567.2 329.8 432.5 284.2M590.4 364Q593.6 376.5 599.2 388.2M526.3 327L501 331.5M399.3 323.7Q436.2 354.4 473.4 384.7M649.4 483L473.4 419.1M671.2 436.3L473.4 419.1M602.1 526.4L478.7 457.7M380 410.8Q522.1 382.1 649.4 312.8M489.4 541.2Q513.7 449.6 493.6 356.9M579.2 419.1L478.7 344.3M590.4 364Q583.3 408.7 559 446.9M590.6 532.4Q535 473.5 462.2 438M602.1 526.4L559 356.9M578.6 258.4L573.9 344.3M613 276.3L473.4 419.1M590.6 532.4Q503.6 429.5 381.7 372.1M671.2 359.5Q599.2 401.9 551.6 470.5M656.4 472.1Q623.3 401.3 559 356.9M613 276.3L493.6 356.9M502.1 544L667.3 347.1M590.4 438L599.2 413.8M380 385Q471 411.5 559 446.9M559 446.9Q518.6 425.7 473.4 419.1M676.2 397.9Q620 370.6 559 356.9M477.1 258.4L551.6 331.5M502.1 544L599.2 413.8M393.4 335.2L578.6 258.4M526.3 457.5L493.6 446.9M551.6 470.5L590.4 438M399.3 323.7L493.6 356.9M493.6 356.9L579.2 384.7M384.5 359.5L473.4 419.1M453.4 413.8Q528.9 416 599.2 388.2M501 331.5Q499.5 389.3 493.6 446.9M399.3 472.1Q474 501.4 540.8 545.7M578.6 537.4L573.9 457.7M566.3 254.6L453.4 413.8M526.3 475Q513.6 473.2 501 470.5M422.9 502.8L489.4 254.6M465.1 263.4Q458.1 394.9 453.7 526.4M553.6 544Q563.4 452.3 590.4 364M613 519.5L590.4 438M641.5 493.3L462.2 438M462.2 364L590.4 364M388.4 448.7L489.4 254.6M667.3 448.7L526.3 346.3M442.7 276.3L526.3 346.3M579.2 384.7L453.4 413.8M553.6 251.8L671.2 436.3M477.1 258.4L477.1 537.4M381.7 372.1L579.2 384.7M406.3 483L501 331.5M674 423.7L566.3 541.2M676.2 397.9L526.3 457.5M527.9 249.5L566.3 541.2M641.5 493.3L453.6 269.4M674 423.7L478.7 457.7M566.3 254.6L501 470.5M526.3 327L453.4 413.8M667.3 347.1L422.9 502.8M667.3 448.7Q622.5 436.1 579.2 419.1M656.4 472.1L462.2 364M453.6 269.4Q510.7 355.4 526.3 457.5M641.5 493.3L641.5 302.5M527.9 546.3L526.3 327M379.5 397.9Q464.4 414.4 526.3 475M578.6 537.4Q544.1 397.2 566.3 254.6M384.5 359.5L526.3 475M590.6 532.4L493.6 446.9M641.5 493.3Q632.6 435.8 599.2 388.2M422.9 293L590.4 438M662.3 335.2L453.4 388.2M590.6 263.4Q548.4 339.9 473.4 384.7M477.1 258.4Q468.4 311 462.2 364M442.7 519.5L602.1 526.4M649.4 483Q599.6 364.4 540.8 250.1M578.6 537.4L551.6 331.5M527.9 546.3L599.2 413.8M579.2 419.1L599.2 388.2M526.3 457.5L501 331.5M489.4 254.6L473.4 384.7M671.2 436.3Q586.5 383.3 501 331.5M602.1 526.4L559 356.9M462.2 364Q509.9 351 559 356.9M623.2 284.2L473.4 419.1M553.6 251.8Q586.5 342 590.4 438M393.4 460.6Q461.2 405.1 526.3 346.3M514.9 545.7L641.5 302.5M388.4 448.7L465.1 263.4M551.6 331.5L493.6 356.9M674 372.1Q628.2 419.9 573.9 457.7M489.4 254.6L493.6 356.9M527.9 546.3L599.2 388.2M453.6 269.4Q457.1 345.1 473.4 419.1M399.3 323.7L590.4 364M559 356.9L453.4 413.8M641.5 302.5L573.9 344.3M379.5 397.9Q526.6 404.8 667.3 448.7M406.3 483L453.4 413.8M489.4 254.6Q585.3 287.6 667.3 347.1M559 446.9L551.6 470.5M526.3 475Q492.8 420.7 493.6 356.9M493.6 356.9Q498.9 344.7 501 331.5M473.4 419.1Q501.1 365.1 551.6 331.5M662.3 460.6L590.4 438M388.4 448.7L623.2 284.2M613 519.5L566.3 254.6M384.5 359.5L656.4 472.1M527.9 249.5Q541 355.8 573.9 457.7M489.4 541.2L526.3 346.3M399.3 323.7L573.9 344.3M432.5 284.2L579.2 419.1M489.4 541.2L579.2 419.1M641.5 302.5Q588.4 391.7 526.3 475M613 519.5L493.6 356.9M579.2 419.1Q538.7 368.6 478.7 344.3M649.4 483Q518.5 450.9 384.5 436.3M493.6 356.9L501 470.5M453.6 269.4Q498.9 306.4 551.6 331.5M453.7 526.4L526.3 327M381.7 372.1Q484.8 330.3 566.3 254.6M641.5 493.3L526.3 475M573.9 344.3L462.2 364M414.2 302.5L551.6 331.5M442.7 276.3Q542.1 373.2 675.7 410.8M380 385L502.1 251.8M465.1 263.4L559 356.9M381.7 423.7L501 470.5M578.6 258.4L599.2 388.2M380 385Q490.4 317.6 613 276.3M578.6 258.4L590.4 364M453.6 269.4L667.3 347.1M553.6 544L526.3 457.5M379.5 397.9L453.4 388.2M384.5 359.5Q433.4 363 478.7 344.3M675.7 385Q615.5 412.5 559 446.9M641.5 302.5L526.3 457.5M540.8 545.7L559 446.9M514.9 250.1Q603.2 279.6 667.3 347.1M442.7 276.3L573.9 344.3M632.8 293Q589.2 317.2 559 356.9M566.3 541.2Q507 444.6 501 331.5M553.6 544Q573.1 437.6 551.6 331.5M501 470.5Q518.9 409.5 526.3 346.3M489.4 254.6Q495.2 293 501 331.5M590.4 438L526.3 457.5M384.5 359.5Q479.6 396.8 579.2 419.1M599.2 388.2L551.6 470.5M526.3 327L501 470.5M432.5 284.2L526.3 457.5M501 331.5L579.2 384.7M649.4 483L442.7 276.3M566.3 541.2L493.6 446.9M540.8 250.1L578.6 537.4M526.3 327Q503 336.9 478.7 344.3M422.9 502.8L632.8 502.8M540.8 545.7Q517 448.2 462.2 364M675.7 385L590.4 364M632.8 293L453.6 269.4M393.4 335.2Q496.1 378.1 573.9 457.7M465.1 532.4L462.2 438M502.1 544L473.4 384.7M388.4 347.1Q481.1 411.1 590.4 438M393.4 335.2L501 470.5M599.2 388.2L493.6 446.9M578.6 537.4L559 446.9M501 470.5Q506.5 401 501 331.5M489.4 541.2L406.3 312.8M671.2 436.3Q589.8 471.7 501 470.5M462.2 364L501 470.5M442.7 519.5Q532.1 400.6 602.1 269.4M453.4 413.8L599.2 388.2M526.3 457.5Q496.8 423.3 473.4 384.7M656.4 472.1L599.2 388.2M442.7 519.5L442.7 276.3M527.9 249.5L526.3 457.5M559 446.9L462.2 364M632.8 502.8L453.4 388.2M674 423.7Q584.8 443.2 493.6 446.9M559 446.9Q550.9 401.9 559 356.9M573.9 344.3L478.7 344.3M675.7 385L526.3 346.3M632.8 502.8Q547.9 448.7 453.4 413.8M641.5 302.5L493.6 356.9M656.4 472.1L514.9 250.1M590.6 532.4L559 356.9M649.4 312.8Q620.6 390.9 559 446.9M406.3 483L526.3 346.3M453.7 526.4Q471.6 493.7 501 470.5M489.4 254.6L462.2 364M379.5 397.9L573.9 344.3M667.3 347.1Q620.3 353.7 573.9 344.3M473.4 419.1L453.4 413.8M489.4 254.6L462.2 438M649.4 483L573.9 344.3M566.3 254.6Q467.8 293.8 384.5 359.5M527.9 249.5Q486.2 349.6 478.7 457.7M379.5 397.9Q451.4 474.4 527.9 546.3" fill="none" stroke="#cbcbcb" stroke-width="0.27" stroke-opacity="1.0"/>
<circle cx="527.9" cy="249.5" r="3.0" fill="#86c686" stroke="#6a8f6a" stroke-width="0.45"/>
<text x="527.9" y="249.5" dy="0.35em" text-anchor="middle" font-size="2.6" fill="#222">atf92.1</text>
<circle cx="540.8" cy="250.1" r="3.0" fill="#86c686" stroke="#6a8f6a" stroke-width="0.45"/>
<text x="540.8" y="250.1" dy="0.35em" text-anchor="middle" font-size="2.6" fill="#222">NP_583777.1</text>
<circle cx="553.6" cy="251.8" r="3.0" fill="#86c686" stroke="#6a8f6a" stroke-width="0.45"/>
<text x="553.6" y="251.8" dy="0.35em" text-anchor="middle" font-size="2.6" fill="#222">hsp89.1</text>
<circle cx="566.3" cy="254.6" r="3.0" fill="#86c686" stroke="#6a8f6a" stroke-width="0.45"/>
<text x="566.3" y="254.6" dy="0.35em" text-anchor="middle" font-size="2.6" fill="#222">LOC812801</text>
<circle cx="578.6" cy="258.4" r="3.0" fill="#86c686" stroke="#6a8f6a" stroke-width="0.45"/>
<text x="578.6" y="258.4" dy="0.35em" text-anchor="middle" font-size="2.6" fill="#222">myc93.1</text>
<circle cx="590.6" cy="263.4" r="3.0" fill="#86c686" stroke="#6a8f6a" stroke-width="0.45"/>
<text x="590.6" y="263.4" dy="0.35em" text-anchor="middle" font-size="2.6" fill="#222">NP_169270.1</text>
<circle cx="602.1" cy="269.4" r="3.0" fill="#86c686" stroke="#6a8f6a" stroke-width="0.45"/>
<text x="602.1" y="269.4" dy="0.35em" text-anchor="middle" font-size="2.6" fill="#222">jun95.1</text>
<circle cx="613" cy="276.3" r="3.0" fill="#86c686" stroke="#6a8f6a" stroke-width="0.45"/>
<text x="613" y="276.3" dy="0.35em" text-anchor="middle" font-size="2.6" fill="#222">LOC436258</text>
<circle cx="623.2" cy="284.2" r="3.0" fill="#86c686" stroke="#6a8f6a" stroke-width="0.45"/>
<text x="623.2" y="284.2" dy="0.35em" text-anchor="middle" font-size="2.6" fill="#222">LOC612927</text>
<circle cx="632.8" cy="293" r="3.0" fill="#86c686" stroke="#6a8f6a" stroke-width="0.45"/>
<text x="632.8" y="293" dy="0.35em" text-anchor="middle" font-size="2.6" fill="#222">klf37.1</text>
<circle cx="641.5" cy="302.5" r="3.0" fill="#86c686" stroke="#6a8f6a" stroke-width="0.45"/>
<text x="641.5" y="302.5" dy="0.35em" text-anchor="middle" font-size="2.6" fill="#222">LOC917156</text>
<circle cx="649.4" cy="312.8" r="3.0" fill="#86c686" stroke="#6a8f6a" stroke-width="0.45"/>
<text x="649.4" y="312.8" dy="0.35em" text-anchor="middle" font-size="2.6" fill="#222">klf48.1</text>
<circle cx="656.4" cy="323.7" r="3.0" fill="#86c686" stroke="#6a8f6a" stroke-width="0.45"/>
<text x="656.4" y="323.7" dy="0.35em" text-anchor="middle" font-size="2.6" fill="#222">XP_471565.1</text>
<circle cx="662.3" cy="335.2" r="3.0" fill="#86c686" stroke="#6a8f6a" stroke-width="0.45"/>
<text x="662.3" y="335.2" dy="0.35em" text-anchor="middle" font-size="2.6" fill="#222">XP_410592.1</text>
<circle cx="667.3" cy="347.1" r="3.0" fill="#86c686" stroke="#6a8f6a" stroke-width="0.45"/>
<text x="667.3" y="347.1" dy="0.35em" text-anchor="middle" font-size="2.6" fill="#222">XP_944829.1</text>
<circle cx="671.2" cy="359.5" r="3.0" fill="#86c686" stroke="#6a8f6a" stroke-width="0.45"/>
<text x="671.2" y="359.5" dy="0.35em" text-anchor="middle" font-size="2.6" fill="#222">LOC719558</text>
<circle cx="674" cy="372.1" r="3.0" fill="#86c686" stroke="#6a8f6a" stroke-width="0.45"/>
<text x="674" y="372.1" dy="0.35em" text-anchor="middle" font-size="2.6" fill="#222">LOC624642</text>
<circle cx="675.7" cy="385" r="3.0" fill="#86c686" stroke="#6a8f6a" stroke-width="0.45"/>
<text x="675.7" y="385" dy="0.35em" text-anchor="middle" font-size="2.6" fill="#222">LOC923695</text>
<circle cx="676.2" cy="397.9" r="3.0" fill="#86c686" stroke="#6a8f6a" stroke-width="0.45"/>
<text x="676.2" y="397.9" dy="0.35em" text-anchor="middle" font-size="2.6" fill="#222">LOC389428</text>
<circle cx="675.7" cy="410.8" r="3.0" fill="#86c686" stroke="#6a8f6a" stroke-width="0.45"/>
<text x="675.7" y="410.8" dy="0.35em" text-anchor="middle" font-size="2.6" fill="#222">LOC597131</text>
<circle cx="674" cy="423.7" r="3.0" fill="#86c686" stroke="#6a8f6a" stroke-width="0.45"/>
<text x="674" y="423.7" dy="0.35em" text-anchor="middle" font-size="2.6" fill="#222">XP_304319.1</text>
<circle cx="671.2" cy="436.3" r="3.0" fill="#86c686" stroke="#6a8f6a" stroke-width="0.45"/>
<text x="671.2" y="436.3" dy="0.35em" text-anchor="middle" font-size="2.6" fill="#222">LOC833677</text>
<circle cx="667.3" cy="448.7" r="3.0" fill="#86c686" stroke="#6a8f6a" stroke-width="0.45"/>
<text x="667.3" y="448.7" dy="0.35em" text-anchor="middle" font-size="2.6" fill="#222">NP_574873.1</text>
<circle cx="662.3" cy="460.6" r="3.0" fill="#86c686" stroke="#6a8f6a" stroke-width="0.45"/>
<text x="662.3" y="460.6" dy="0.35em" text-anchor="middle" font-size="2.6" fill="#222">NP_275178.1</text>
<circle cx="656.4" cy="472.1" r="3.0" fill="#86c686" stroke="#6a8f6a" stroke-width="0.45"/>
<text x="656.4" y="472.1" dy="0.35em" text-anchor="middle" font-size="2.6" fill="#222">LOC718246</text>
<circle cx="649.4" cy="483" r="3.0" fill="#86c686" stroke="#6a8f6a" stroke-width="0.45"/>
<text x="649.4" y="483" dy="0.35em" text-anchor="middle" font-size="2.6" fill="#222">LOC750930</text>
<circle cx="641.5" cy="493.3" r="3.0" fill="#86c686" stroke="#6a8f6a" stroke-width="0.45"/>
<text x="641.5" y="493.3" dy="0.35em" text-anchor="middle" font-size="2.6" fill="#222">myc48.1</text>
<circle cx="632.8" cy="502.8" r="3.0" fill="#86c686" stroke="#6a8f6a" stroke-width="0.45"/>
<text x="632.8" y="502.8" dy="0.35em" text-anchor="middle" font-size="2.6" fill="#222">LOC936214</text>
<circle cx="623.2" cy="511.6" r="3.0" fill="#86c686" stroke="#6a8f6a" stroke-width="0.45"/>
<text x="623.2" y="511.6" dy="0.35em" text-anchor="middle" font-size="2.6" fill="#222">XP_578276.1</text>
<circle cx="613" cy="519.5" r="3.0" fill="#86c686" stroke="#6a8f6a" stroke-width="0.45"/>
<text x="613" y="519.5" dy="0.35em" text-anchor="middle" font-size="2.6" fill="#222">NP_790026.1</text>
<circle cx="602.1" cy="526.4" r="3.0" fill="#86c686" stroke="#6a8f6a" stroke-width="0.45"/>
<text x="602.1" y="526.4" dy="0.35em" text-anchor="middle" font-size="2.6" fill="#222">NP_495446.1</text>
<circle cx="590.6" cy="532.4" r="3.0" fill="#86c686" stroke="#6a8f6a" stroke-width="0.45"/>
<text x="590.6" y="532.4" dy="0.35em" text-anchor="middle" font-size="2.6" fill="#222">LOC693738</text>
<circle cx="578.6" cy="537.4" r="3.0" fill="#86c686" stroke="#6a8f6a" stroke-width="0.45"/>
<text x="578.6" y="537.4" dy="0.35em" text-anchor="middle" font-size="2.6" fill="#222">klf16.1</text>
<circle cx="566.3" cy="541.2" r="3.0" fill="#86c686" stroke="#6a8f6a" stroke-width="0.45"/>
<text x="566.3" y="541.2" dy="0.35em" text-anchor="middle" font-size="2.6" fill="#222">LOC592498</text>
<circle cx="553.6" cy="544" r="3.0" fill="#86c686" stroke="#6a8f6a" stroke-width="0.45"/>
<text x="553.6" y="544" dy="0.35em" text-anchor="middle" font-size="2.6" fill="#222">hsp11.1</text>
<circle cx="540.8" cy="545.7" r="3.0" fill="#86c686" stroke="#6a8f6a" stroke-width="0.45"/>
<text x="540.8" y="545.7" dy="0.35em" text-anchor="middle" font-size="2.6" fill="#222">NP_882440.1</text>
<circle cx="527.9" cy="546.3" r="3.0" fill="#86c686" stroke="#6a8f6a" stroke-width="0.45"/>
<text x="527.9" y="546.3" dy="0.35em" text-anchor="middle" font-size="2.6" fill="#222">NP_363489.1</text>
<circle cx="514.9" cy="545.7" r="3.0" fill="#86c686" stroke="#6a8f6a" stroke-width="0.45"/>
<text x="514.9" y="545.7" dy="0.35em" text-anchor="middle" font-size="2.6" fill="#222">LOC272787</text>
<circle cx="502.1" cy="544" r="3.0" fill="#86c686" stroke="#6a8f6a" stroke-width="0.45"/>
<text x="502.1" y="544" dy="0.35em" text-anchor="middle" font-size="2.6" fill="#222">XP_356900.1</text>
<circle cx="489.4" cy="541.2" r="3.0" fill="#86c686" stroke="#6a8f6a" stroke-width="0.45"/>
<text x="489.4" y="541.2" dy="0.35em" text-anchor="middle" font-size="2.6" fill="#222">LOC540753</text>
<circle cx="477.1" cy="537.4" r="3.0" fill="#86c686" stroke="#6a8f6a" stroke-width="0.45"/>
<text x="477.1" y="537.4" dy="0.35em" text-anchor="middle" font-size="2.6" fill="#222">hsp25.1</text>
<circle cx="465.1" cy="532.4" r="3.0" fill="#86c686" stroke="#6a8f6a" stroke-width="0.45"/>
<text x="465.1" y="532.4" dy="0.35em" text-anchor="middle" font-size="2.6" fill="#222">NP_283587.1</text>
<circle cx="453.7" cy="526.4" r="3.0" fill="#86c686" stroke="#6a8f6a" stroke-width="0.45"/>
<text x="453.7" y="526.4" dy="0.35em" text-anchor="middle" font-size="2.6" fill="#222">NP_182506.1</text>
<circle cx="442.7" cy="519.5" r="3.0" fill="#86c686" stroke="#6a8f6a" stroke-width="0.45"/>
<text x="442.7" y="519.5" dy="0.35em" text-anchor="middle" font-size="2.6" fill="#222">NP_170751.1</text>
<circle cx="432.5" cy="511.6" r="3.0" fill="#86c686" stroke="#6a8f6a" stroke-width="0.45"/>
<text x="432.5" y="511.6" dy="0.35em" text-anchor="middle" font-size="2.6" fill="#222">LOC418175</text>
<circle cx="422.9" cy="502.8" r="3.0" fill="#86c686" stroke="#6a8f6a" stroke-width="0.45"/>
<text x="422.9" y="502.8" dy="0.35em" text-anchor="middle" font-size="2.6" fill="#222">LOC515159</text>
<circle cx="414.2" cy="493.3" r="3.0" fill="#86c686" stroke="#6a8f6a" stroke-width="0.45"/>
<text x="414.2" y="493.3" dy="0.35em" text-anchor="middle" font-size="2.6" fill="#222">LOC831214</text>
<circle cx="406.3" cy="483" r="3.0" fill="#86c686" stroke="#6a8f6a" stroke-width="0.45"/>
<text x="406.3" y="483" dy="0.35em" text-anchor="middle" font-size="2.6" fill="#222">NP_441750.1</text>
<circle cx="399.3" cy="472.1" r="3.0" fill="#86c686" stroke="#6a8f6a" stroke-width="0.45"/>
<text x="399.3" y="472.1" dy="0.35em" text-anchor="middle" font-size="2.6" fill="#222">LOC496883</text>
<circle cx="393.4" cy="460.6" r="3.0" fill="#86c686" stroke="#6a8f6a" stroke-width="0.45"/>
<text x="393.4" y="460.6" dy="0.35em" text-anchor="middle" font-size="2.6" fill="#222">NP_431564.1</text>
<circle cx="388.4" cy="448.7" r="3.0" fill="#86c686" stroke="#6a8f6a" stroke-width="0.45"/>
<text x="388.4" y="448.7" dy="0.35em" text-anchor="middle" font-size="2.6" fill="#222">hsp81.1</text>
<circle cx="384.5" cy="436.3" r="3.0" fill="#86c686" stroke="#6a8f6a" stroke-width="0.45"/>
<text x="384.5" y="436.3" dy="0.35em" text-anchor="middle" font-size="2.6" fill="#222">LOC652394</text>
<circle cx="381.7" cy="423.7" r="3.0" fill="#86c686" stroke="#6a8f6a" stroke-width="0.45"/>
<text x="381.7" y="423.7" dy="0.35em" text-anchor="middle" font-size="2.6" fill="#222">LOC424938</text>
<circle cx="380" cy="410.8" r="3.0" fill="#86c686" stroke="#6a8f6a" stroke-width="0.45"/>
<text x="380" y="410.8" dy="0.35em" text-anchor="middle" font-size="2.6" fill="#222">XP_309642.1</text>
<circle cx="379.5" cy="397.9" r="3.0" fill="#86c686" stroke="#6a8f6a" stroke-width="0.45"/>
<text x="379.5" y="397.9" dy="0.35em" text-anchor="middle" font-size="2.6" fill="#222">XP_205358.1</text>
<circle cx="380" cy="385" r="3.0" fill="#86c686" stroke="#6a8f6a" stroke-width="0.45"/>
<text x="380" y="385" dy="0.35em" text-anchor="middle" font-size="2.6" fill="#222">LOC908145</text>
<circle cx="381.7" cy="372.1" r="3.0" fill="#86c686" stroke="#6a8f6a" stroke-width="0.45"/>
<text x="381.7" y="372.1" dy="0.35em" text-anchor="middle" font-size="2.6" fill="#222">egr63.1</text>
<circle cx="384.5" cy="359.5" r="3.0" fill="#86c686" stroke="#6a8f6a" stroke-width="0.45"/>
<text x="384.5" y="359.5" dy="0.35em" text-anchor="middle" font-size="2.6" fill="#222">NP_980864.1</text>
<circle cx="388.4" cy="347.1" r="3.0" fill="#86c686" stroke="#6a8f6a" stroke-width="0.45"/>
<text x="388.4" y="347.1" dy="0.35em" text-anchor="middle" font-size="2.6" fill="#222">XP_601849.1</text>
<circle cx="393.4" cy="335.2" r="3.0" fill="#86c686" stroke="#6a8f6a" stroke-width="0.45"/>
<text x="393.4" y="335.2" dy="0.35em" text-anchor="middle" font-size="2.6" fill="#222">klf66.1</text>
<circle cx="399.3" cy="323.7" r="3.0" fill="#86c686" stroke="#6a8f6a" stroke-width="0.45"/>
<text x="399.3" y="323.7" dy="0.35em" text-anchor="middle" font-size="2.6" fill="#222">NP_587986.1</text>
<circle cx="406.3" cy="312.8" r="3.0" fill="#86c686" stroke="#6a8f6a" stroke-width="0.45"/>
<text x="406.3" y="312.8" dy="0.35em" text-anchor="middle" font-size="2.6" fill="#222">NP_495403.1</text>
<circle cx="414.2" cy="302.5" r="3.0" fill="#86c686" stroke="#6a8f6a" stroke-width="0.45"/>
<text x="414.2" y="302.5" dy="0.35em" text-anchor="middle" font-size="2.6" fill="#222">XP_996476.1</text>
<circle cx="422.9" cy="293" r="3.0" fill="#86c686" stroke="#6a8f6a" stroke-width="0.45"/>
<text x="422.9" y="293" dy="0.35em" text-anchor="middle" font-size="2.6" fill="#222">NP_362428.1</text>
<circle cx="432.5" cy="284.2" r="3.0" fill="#86c686" stroke="#6a8f6a" stroke-width="0.45"/>
<text x="432.5" y="284.2" dy="0.35em" text-anchor="middle" font-size="2.6" fill="#222">hsp18.1</text>
<circle cx="442.7" cy="276.3" r="3.0" fill="#86c686" stroke="#6a8f6a" stroke-width="0.45"/>
<text x="442.7" y="276.3" dy="0.35em" text-anchor="middle" font-size="2.6" fill="#222">XP_234138.1</text>
<circle cx="453.6" cy="269.4" r="3.0" fill="#86c686" stroke="#6a8f6a" stroke-width="0.45"/>
<text x="453.6" y="269.4" dy="0.35em" text-anchor="middle" font-size="2.6" fill="#222">LOC506923</text>
<circle cx="465.1" cy="263.4" r="3.0" fill="#86c686" stroke="#6a8f6a" stroke-width="0.45"/>
<text x="465.1" y="263.4" dy="0.35em" text-anchor="middle" font-size="2.6" fill="#222">NP_630848.1</text>
<circle cx="477.1" cy="258.4" r="3.0" fill="#86c686" stroke="#6a8f6a" stroke-width="0.45"/>
<text x="477.1" y="258.4" dy="0.35em" text-anchor="middle" font-size="2.6" fill="#222">NP_893619.1</text>
<circle cx="489.4" cy="254.6" r="3.0" fill="#86c686" stroke="#6a8f6a" stroke-width="0.45"/>
<text x="489.4" y="254.6" dy="0.35em" text-anchor="middle" font-size="2.6" fill="#222">NP_862009.1</text>
<circle cx="502.1" cy="251.8" r="3.0" fill="#86c686" stroke="#6a8f6a" stroke-width="0.45"/>
<text x="502.1" y="251.8" dy="0.35em" text-anchor="middle" font-size="2.6" fill="#222">LOC488906</text>
<circle cx="514.9" cy="250.1" r="3.0" fill="#86c686" stroke="#6a8f6a" stroke-width="0.45"/>
<text x="514.9" y="250.1" dy="0.35em" text-anchor="middle" font-size="2.6" fill="#222">XP_841350.1</text>
<circle cx="526.3" cy="327" r="3.7" fill="#6dbb6d" stroke="#6a8f6a" stroke-width="0.45"/>
<text x="526.3" y="327" dy="0.35em" text-anchor="middle" font-size="2.6" fill="#222">XP_163433.1</text>
<circle cx="551.6" cy="331.5" r="3.7" fill="#6dbb6d" stroke="#6a8f6a" stroke-width="0.45"/>
<text x="551.6" y="331.5" dy="0.35em" text-anchor="middle" font-size="2.6" fill="#222">NP_441229.1</text>
<circle cx="573.9" cy="344.3" r="3.7" fill="#6dbb6d" stroke="#6a8f6a" stroke-width="0.45"/>
<text x="573.9" y="344.3" dy="0.35em" text-anchor="middle" font-size="2.6" fill="#222">NP_977002.1</text>
<circle cx="590.4" cy="364" r="3.7" fill="#6dbb6d" stroke="#6a8f6a" stroke-width="0.45"/>
<text x="590.4" y="364" dy="0.35em" text-anchor="middle" font-size="2.6" fill="#222">NP_795943.1</text>
<circle cx="599.2" cy="388.2" r="3.7" fill="#6dbb6d" stroke="#6a8f6a" stroke-width="0.45"/>
<text x="599.2" y="388.2" dy="0.35em" text-anchor="middle" font-size="2.6" fill="#222">pck66.1</text>
<circle cx="599.2" cy="413.8" r="3.7" fill="#6dbb6d" stroke="#6a8f6a" stroke-width="0.45"/>
<text x="599.2" y="413.8" dy="0.35em" text-anchor="middle" font-size="2.6" fill="#222">LOC558411</text>
<circle cx="590.4" cy="438" r="3.7" fill="#6dbb6d" stroke="#6a8f6a" stroke-width="0.45"/>
<text x="590.4" y="438" dy="0.35em" text-anchor="middle" font-size="2.6" fill="#222">LOC969271</text>
<circle cx="573.9" cy="457.7" r="3.7" fill="#6dbb6d" stroke="#6a8f6a" stroke-width="0.45"/>
<text x="573.9" y="457.7" dy="0.35em" text-anchor="middle" font-size="2.6" fill="#222">NP_571431.1</text>
<circle cx="551.6" cy="470.5" r="3.7" fill="#6dbb6d" stroke="#6a8f6a" stroke-width="0.45"/>
<text x="551.6" y="470.5" dy="0.35em" text-anchor="middle" font-size="2.6" fill="#222">XP_327805.1</text>
<circle cx="526.3" cy="475" r="3.7" fill="#6dbb6d" stroke="#6a8f6a" stroke-width="0.45"/>
<text x="526.3" y="475" dy="0.35em" text-anchor="middle" font-size="2.6" fill="#222">atf6.1</text>
<circle cx="501" cy="470.5" r="3.7" fill="#6dbb6d" stroke="#6a8f6a" stroke-width="0.45"/>
<text x="501" y="470.5" dy="0.35em" text-anchor="middle" font-size="2.6" fill="#222">LOC938532</text>
<circle cx="478.7" cy="457.7" r="3.7" fill="#6dbb6d" stroke="#6a8f6a" stroke-width="0.45"/>
<text x="478.7" y="457.7" dy="0.35em" text-anchor="middle" font-size="2.6" fill="#222">LOC807828</text>
<circle cx="462.2" cy="438" r="3.7" fill="#6dbb6d" stroke="#6a8f6a" stroke-width="0.45"/>
<text x="462.2" y="438" dy="0.35em" text-anchor="middle" font-size="2.6" fill="#222">LOC122582</text>
<circle cx="453.4" cy="413.8" r="3.7" fill="#6dbb6d" stroke="#6a8f6a" stroke-width="0.45"/>
<text x="453.4" y="413.8" dy="0.35em" text-anchor="middle" font-size="2.6" fill="#222">hsp9.1</text>
<circle cx="453.4" cy="388.2" r="3.7" fill="#6dbb6d" stroke="#6a8f6a" stroke-width="0.45"/>
<text x="453.4" y="388.2" dy="0.35em" text-anchor="middle" font-size="2.6" fill="#222">LOC217026</text>
<circle cx="462.2" cy="364" r="3.7" fill="#6dbb6d" stroke="#6a8f6a" stroke-width="0.45"/>
<text x="462.2" y="364" dy="0.35em" text-anchor="middle" font-size="2.6" fill="#222">NP_598786.1</text>
<circle cx="478.7" cy="344.3" r="3.7" fill="#6dbb6d" stroke="#6a8f6a" stroke-width="0.45"/>
<text x="478.7" y="344.3" dy="0.35em" text-anchor="middle" font-size="2.6" fill="#222">XP_517181.1</text>
<circle cx="501" cy="331.5" r="3.7" fill="#6dbb6d" stroke="#6a8f6a" stroke-width="0.45"/>
<text x="501" y="331.5" dy="0.35em" text-anchor="middle" font-size="2.6" fill="#222">NP_133554.1</text>
<circle cx="526.3" cy="346.3" r="4.3" fill="#4eaa4e" stroke="#6a8f6a" stroke-width="0.45"/>
<text x="526.3" y="346.3" dy="0.35em" text-anchor="middle" font-size="2.6" fill="#222">NP_633629.1</text>
<circle cx="559" cy="356.9" r="4.2" fill="#4eaa4e" stroke="#6a8f6a" stroke-width="0.45"/>
<text x="559" y="356.9" dy="0.35em" text-anchor="middle" font-size="2.6" fill="#222">LOC702671</text>
<circle cx="579.2" cy="384.7" r="4.6" fill="#4eaa4e" stroke="#6a8f6a" stroke-width="0.45"/>
<text x="579.2" y="384.7" dy="0.35em" text-anchor="middle" font-size="2.6" fill="#222">klf33.1</text>
<circle cx="579.2" cy="419.1" r="5.4" fill="#45a445" stroke="#6a8f6a" stroke-width="0.45"/>
<text x="579.2" y="419.1" dy="0.35em" text-anchor="middle" font-size="2.6" fill="#222">XP_282685.1</text>
<circle cx="559" cy="446.9" r="5.5" fill="#45a445" stroke="#6a8f6a" stroke-width="0.45"/>
<text x="559" y="446.9" dy="0.35em" text-anchor="middle" font-size="2.6" fill="#222">pck5.1</text>
<circle cx="526.3" cy="457.5" r="6.8" fill="#45a445" stroke="#6a8f6a" stroke-width="0.45"/>
<text x="526.3" y="457.5" dy="0.35em" text-anchor="middle" font-size="2.6" fill="#222">NP_384473.1</text>
<circle cx="493.6" cy="446.9" r="4.2" fill="#4eaa4e" stroke="#6a8f6a" stroke-width="0.45"/>
<text x="493.6" y="446.9" dy="0.35em" text-anchor="middle" font-size="2.6" fill="#222">NP_427929.1</text>
<circle cx="473.4" cy="419.1" r="4.2" fill="#4eaa4e" stroke="#6a8f6a" stroke-width="0.45"/>
<text x="473.4" y="419.1" dy="0.35em" text-anchor="middle" font-size="2.6" fill="#222">NP_598530.1</text>
<circle cx="473.4" cy="384.7" r="4.3" fill="#4eaa4e" stroke="#6a8f6a" stroke-width="0.45"/>
<text x="473.4" y="384.7" dy="0.35em" text-anchor="middle" font-size="2.6" fill="#222">egr47.1</text>
<circle cx="493.6" cy="356.9" r="4.3" fill="#4eaa4e" stroke="#6a8f6a" stroke-width="0.45"/>
<text x="493.6" y="356.9" dy="0.35em" text-anchor="middle" font-size="2.6" fill="#222">XP_744160.1</text>
<rect x="20.5" y="598.5" width="657" height="308" fill="none" stroke="#6e6e6e" stroke-width="1"/>
<text x="94.1" y="613.5" font-size="8.1" font-style="italic">hsp30</text>
<rect x="65.6" y="623.95" width="10.9" height="4.7" fill="#4e5aa8"/>
<text x="82" y="626.35" dy="0.35em" font-size="7.8">q-PCR</text>
<rect x="117.1" y="623.95" width="11" height="4.7" fill="#dcac77"/>
<text x="134" y="626.35" dy="0.35em" font-size="7.8">FPKM</text>
<rect x="61" y="705.34" width="8.7" height="24.76" fill="#4e5aa8"/>
<rect x="74.3" y="687.98" width="8.7" height="42.12" fill="#dcac77"/>
<rect x="96.5" y="684.15" width="8.7" height="45.95" fill="#4e5aa8"/>
<rect x="109.8" y="660.67" width="8.7" height="69.43" fill="#dcac77"/>
<rect x="132" y="662.97" width="8.7" height="67.13" fill="#4e5aa8"/>
<rect x="145.3" y="651.99" width="8.7" height="78.11" fill="#dcac77"/>
<path d="M56.2 628V730.1" stroke="#111" stroke-width="1.1" fill="none"/>
<path d="M52.6 730.1H56.2" stroke="#111" stroke-width="1.1"/>
<text x="51.6" y="730.1" dy="0.36em" text-anchor="end" font-size="7.6" font-weight="bold">0</text>
<path d="M52.6 704.58H56.2" stroke="#111" stroke-width="1.1"/>
<text x="51.6" y="704.58" dy="0.36em" text-anchor="end" font-size="7.6" font-weight="bold">1</text>
<path d="M52.6 679.05H56.2" stroke="#111" stroke-width="1.1"/>
<text x="51.6" y="679.05" dy="0.36em" text-anchor="end" font-size="7.6" font-weight="bold">2</text>
<path d="M52.6 653.52H56.2" stroke="#111" stroke-width="1.1"/>
<text x="51.6" y="653.52" dy="0.36em" text-anchor="end" font-size="7.6" font-weight="bold">3</text>
<path d="M52.6 628H56.2" stroke="#111" stroke-width="1.1"/>
<text x="51.6" y="628" dy="0.36em" text-anchor="end" font-size="7.6" font-weight="bold">4</text>
<path d="M56.2 730.1H159.5" stroke="#111" stroke-width="1.1"/>
<path d="M72 730.1V733.8" stroke="#111" stroke-width="1.1"/>
<text x="72" y="742.9" text-anchor="middle" font-size="7.5" font-weight="bold">T6</text>
<path d="M107.5 730.1V733.8" stroke="#111" stroke-width="1.1"/>
<text x="107.5" y="742.9" text-anchor="middle" font-size="7.5" font-weight="bold">T12</text>
<path d="M143 730.1V733.8" stroke="#111" stroke-width="1.1"/>
<text x="143" y="742.9" text-anchor="middle" font-size="7.5" font-weight="bold">T24</text>
<text transform="translate(38,679.05) rotate(-90)" text-anchor="middle" dy="0.35em" font-size="7.6" font-weight="bold">Log<tspan font-size="5" dy="2">2</tspan><tspan dy="-2">(Fold Change)</tspan></text>
<text x="262.3" y="613.5" font-size="8.1" font-style="italic">prkaa2</text>
<rect x="233.8" y="623.95" width="10.9" height="4.7" fill="#4e5aa8"/>
<text x="250.2" y="626.35" dy="0.35em" font-size="7.8">q-PCR</text>
<rect x="285.3" y="623.95" width="11" height="4.7" fill="#dcac77"/>
<text x="302.2" y="626.35" dy="0.35em" font-size="7.8">FPKM</text>
<rect x="229.2" y="634.64" width="8.7" height="18.89" fill="#4e5aa8"/>
<rect x="242.5" y="647.4" width="8.7" height="6.13" fill="#dcac77"/>
<rect x="264.7" y="653.52" width="8.7" height="45.95" fill="#4e5aa8"/>
<rect x="278" y="653.52" width="8.7" height="18.89" fill="#dcac77"/>
<rect x="300.2" y="653.52" width="8.7" height="52.07" fill="#4e5aa8"/>
<rect x="313.5" y="653.52" width="8.7" height="60.24" fill="#dcac77"/>
<path d="M224.4 628V730.1" stroke="#111" stroke-width="1.1" fill="none"/>
<path d="M220.8 730.1H224.4" stroke="#111" stroke-width="1.1"/>
<text x="219.8" y="730.1" dy="0.36em" text-anchor="end" font-size="7.6" font-weight="bold">-1.5</text>
<path d="M220.8 704.58H224.4" stroke="#111" stroke-width="1.1"/>
<text x="219.8" y="704.58" dy="0.36em" text-anchor="end" font-size="7.6" font-weight="bold">-1.0</text>
<path d="M220.8 679.05H224.4" stroke="#111" stroke-width="1.1"/>
<text x="219.8" y="679.05" dy="0.36em" text-anchor="end" font-size="7.6" font-weight="bold">-0.5</text>
<path d="M220.8 653.52H224.4" stroke="#111" stroke-width="1.1"/>
<text x="219.8" y="653.52" dy="0.36em" text-anchor="end" font-size="7.6" font-weight="bold">0.0</text>
<path d="M220.8 628H224.4" stroke="#111" stroke-width="1.1"/>
<text x="219.8" y="628" dy="0.36em" text-anchor="end" font-size="7.6" font-weight="bold">0.5</text>
<path d="M224.4 730.1H327.7" stroke="#111" stroke-width="1.1"/>
<path d="M224.4 653.52H327.7" stroke="#111" stroke-width="1.1"/>
<path d="M240.2 730.1V733.8" stroke="#111" stroke-width="1.1"/>
<text x="240.2" y="742.9" text-anchor="middle" font-size="7.5" font-weight="bold">T6</text>
<path d="M275.7 730.1V733.8" stroke="#111" stroke-width="1.1"/>
<text x="275.7" y="742.9" text-anchor="middle" font-size="7.5" font-weight="bold">T12</text>
<path d="M311.2 730.1V733.8" stroke="#111" stroke-width="1.1"/>
<text x="311.2" y="742.9" text-anchor="middle" font-size="7.5" font-weight="bold">T24</text>
<text transform="translate(197.4,679.05) rotate(-90)" text-anchor="middle" dy="0.35em" font-size="7.6" font-weight="bold">Log<tspan font-size="5" dy="2">2</tspan><tspan dy="-2">(Fold Change)</tspan></text>
<text x="426.3" y="613.5" font-size="8.1" font-style="italic">pepck</text>
<rect x="397.8" y="623.95" width="10.9" height="4.7" fill="#4e5aa8"/>
<text x="414.2" y="626.35" dy="0.35em" font-size="7.8">q-PCR</text>
<rect x="449.3" y="623.95" width="11" height="4.7" fill="#dcac77"/>
<text x="466.2" y="626.35" dy="0.35em" font-size="7.8">FPKM</text>
<rect x="393.2" y="705.6" width="8.7" height="24.5" fill="#4e5aa8"/>
<rect x="406.5" y="705.26" width="8.7" height="24.84" fill="#dcac77"/>
<rect x="428.7" y="687.9" width="8.7" height="42.2" fill="#4e5aa8"/>
<rect x="442" y="709.88" width="8.7" height="20.22" fill="#dcac77"/>
<rect x="464.2" y="660.67" width="8.7" height="69.43" fill="#4e5aa8"/>
<rect x="477.5" y="695.05" width="8.7" height="35.05" fill="#dcac77"/>
<path d="M388.4 628V730.1" stroke="#111" stroke-width="1.1" fill="none"/>
<path d="M384.8 730.1H388.4" stroke="#111" stroke-width="1.1"/>
<text x="383.8" y="730.1" dy="0.36em" text-anchor="end" font-size="7.6" font-weight="bold">0</text>
<path d="M384.8 696.07H388.4" stroke="#111" stroke-width="1.1"/>
<text x="383.8" y="696.07" dy="0.36em" text-anchor="end" font-size="7.6" font-weight="bold">5</text>
<path d="M384.8 662.03H388.4" stroke="#111" stroke-width="1.1"/>
<text x="383.8" y="662.03" dy="0.36em" text-anchor="end" font-size="7.6" font-weight="bold">10</text>
<path d="M384.8 628H388.4" stroke="#111" stroke-width="1.1"/>
<text x="383.8" y="628" dy="0.36em" text-anchor="end" font-size="7.6" font-weight="bold">15</text>
<path d="M388.4 730.1H491.7" stroke="#111" stroke-width="1.1"/>
<path d="M404.2 730.1V733.8" stroke="#111" stroke-width="1.1"/>
<text x="404.2" y="742.9" text-anchor="middle" font-size="7.5" font-weight="bold">T6</text>
<path d="M439.7 730.1V733.8" stroke="#111" stroke-width="1.1"/>
<text x="439.7" y="742.9" text-anchor="middle" font-size="7.5" font-weight="bold">T12</text>
<path d="M475.2 730.1V733.8" stroke="#111" stroke-width="1.1"/>
<text x="475.2" y="742.9" text-anchor="middle" font-size="7.5" font-weight="bold">T24</text>
<text transform="translate(365,679.05) rotate(-90)" text-anchor="middle" dy="0.35em" font-size="7.6" font-weight="bold">Log<tspan font-size="5" dy="2">2</tspan><tspan dy="-2">(Fold Change)</tspan></text>
<text x="595.2" y="613.5" font-size="8.1" font-style="italic">fbp2</text>
<rect x="566.7" y="623.95" width="10.9" height="4.7" fill="#4e5aa8"/>
<text x="583.1" y="626.35" dy="0.35em" font-size="7.8">q-PCR</text>
<rect x="618.2" y="623.95" width="11" height="4.7" fill="#dcac77"/>
<text x="635.1" y="626.35" dy="0.35em" font-size="7.8">FPKM</text>
<rect x="562.1" y="679.05" width="8.7" height="45.43" fill="#4e5aa8"/>
<rect x="575.4" y="679.05" width="8.7" height="45.95" fill="#dcac77"/>
<rect x="610.9" y="643.83" width="8.7" height="35.22" fill="#dcac77"/>
<rect x="633.1" y="679.05" width="8.7" height="17.61" fill="#4e5aa8"/>
<rect x="646.4" y="679.05" width="8.7" height="32.67" fill="#dcac77"/>
<path d="M557.3 628V730.1" stroke="#111" stroke-width="1.1" fill="none"/>
<path d="M553.7 730.1H557.3" stroke="#111" stroke-width="1.1"/>
<text x="552.7" y="730.1" dy="0.36em" text-anchor="end" font-size="7.6" font-weight="bold">-0.2</text>
<path d="M553.7 704.58H557.3" stroke="#111" stroke-width="1.1"/>
<text x="552.7" y="704.58" dy="0.36em" text-anchor="end" font-size="7.6" font-weight="bold">-0.1</text>
<path d="M553.7 679.05H557.3" stroke="#111" stroke-width="1.1"/>
<text x="552.7" y="679.05" dy="0.36em" text-anchor="end" font-size="7.6" font-weight="bold">0.0</text>
<path d="M553.7 653.52H557.3" stroke="#111" stroke-width="1.1"/>
<text x="552.7" y="653.52" dy="0.36em" text-anchor="end" font-size="7.6" font-weight="bold">0.1</text>
<path d="M553.7 628H557.3" stroke="#111" stroke-width="1.1"/>
<text x="552.7" y="628" dy="0.36em" text-anchor="end" font-size="7.6" font-weight="bold">0.2</text>
<path d="M557.3 730.1H660.6" stroke="#111" stroke-width="1.1"/>
<path d="M557.3 679.05H660.6" stroke="#111" stroke-width="1.1"/>
<path d="M573.1 730.1V733.8" stroke="#111" stroke-width="1.1"/>
<text x="573.1" y="742.9" text-anchor="middle" font-size="7.5" font-weight="bold">T6</text>
<path d="M608.6 730.1V733.8" stroke="#111" stroke-width="1.1"/>
<text x="608.6" y="742.9" text-anchor="middle" font-size="7.5" font-weight="bold">T12</text>
<path d="M644.1 730.1V733.8" stroke="#111" stroke-width="1.1"/>
<text x="644.1" y="742.9" text-anchor="middle" font-size="7.5" font-weight="bold">T24</text>
<text transform="translate(529.8,679.05) rotate(-90)" text-anchor="middle" dy="0.35em" font-size="7.6" font-weight="bold">Log<tspan font-size="5" dy="2">2</tspan><tspan dy="-2">(Fold Change)</tspan></text>
<text x="93.6" y="768" font-size="8.1" font-style="italic">fos</text>
<rect x="65.1" y="778.45" width="10.9" height="4.7" fill="#4e5aa8"/>
<text x="81.5" y="780.85" dy="0.35em" font-size="7.8">q-PCR</text>
<rect x="116.6" y="778.45" width="11" height="4.7" fill="#dcac77"/>
<text x="133.5" y="780.85" dy="0.35em" font-size="7.8">FPKM</text>
<rect x="60.5" y="836.36" width="8.7" height="48.24" fill="#4e5aa8"/>
<rect x="73.8" y="851.93" width="8.7" height="32.67" fill="#dcac77"/>
<rect x="96" y="813.39" width="8.7" height="71.21" fill="#4e5aa8"/>
<rect x="109.3" y="863.67" width="8.7" height="20.93" fill="#dcac77"/>
<rect x="131.5" y="796.54" width="8.7" height="88.06" fill="#4e5aa8"/>
<rect x="144.8" y="854.61" width="8.7" height="29.99" fill="#dcac77"/>
<path d="M55.7 782.5V884.6" stroke="#111" stroke-width="1.1" fill="none"/>
<path d="M52.1 884.6H55.7" stroke="#111" stroke-width="1.1"/>
<text x="51.1" y="884.6" dy="0.36em" text-anchor="end" font-size="7.6" font-weight="bold">0</text>
<path d="M52.1 859.08H55.7" stroke="#111" stroke-width="1.1"/>
<text x="51.1" y="859.08" dy="0.36em" text-anchor="end" font-size="7.6" font-weight="bold">2</text>
<path d="M52.1 833.55H55.7" stroke="#111" stroke-width="1.1"/>
<text x="51.1" y="833.55" dy="0.36em" text-anchor="end" font-size="7.6" font-weight="bold">4</text>
<path d="M52.1 808.02H55.7" stroke="#111" stroke-width="1.1"/>
<text x="51.1" y="808.02" dy="0.36em" text-anchor="end" font-size="7.6" font-weight="bold">6</text>
<path d="M52.1 782.5H55.7" stroke="#111" stroke-width="1.1"/>
<text x="51.1" y="782.5" dy="0.36em" text-anchor="end" font-size="7.6" font-weight="bold">8</text>
<path d="M55.7 884.6H159" stroke="#111" stroke-width="1.1"/>
<path d="M71.5 884.6V888.3" stroke="#111" stroke-width="1.1"/>
<text x="71.5" y="897.4" text-anchor="middle" font-size="7.5" font-weight="bold">T6</text>
<path d="M107 884.6V888.3" stroke="#111" stroke-width="1.1"/>
<text x="107" y="897.4" text-anchor="middle" font-size="7.5" font-weight="bold">T12</text>
<path d="M142.5 884.6V888.3" stroke="#111" stroke-width="1.1"/>
<text x="142.5" y="897.4" text-anchor="middle" font-size="7.5" font-weight="bold">T24</text>
<text transform="translate(37.8,833.55) rotate(-90)" text-anchor="middle" dy="0.35em" font-size="7.6" font-weight="bold">Log<tspan font-size="5" dy="2">2</tspan><tspan dy="-2">(Fold Change)</tspan></text>
<text x="253.4" y="768" font-size="8.1" font-style="italic">casp8</text>
<rect x="224.9" y="778.45" width="10.9" height="4.7" fill="#4e5aa8"/>
<text x="241.3" y="780.85" dy="0.35em" font-size="7.8">q-PCR</text>
<rect x="276.4" y="778.45" width="11" height="4.7" fill="#dcac77"/>
<text x="293.3" y="780.85" dy="0.35em" font-size="7.8">FPKM</text>
<rect x="220.3" y="865.2" width="8.7" height="19.4" fill="#4e5aa8"/>
<rect x="233.6" y="879.62" width="8.7" height="4.98" fill="#dcac77"/>
<rect x="255.8" y="789.77" width="8.7" height="94.83" fill="#4e5aa8"/>
<rect x="269.1" y="872.22" width="8.7" height="12.38" fill="#dcac77"/>
<rect x="291.3" y="797.43" width="8.7" height="87.17" fill="#4e5aa8"/>
<rect x="304.6" y="856.52" width="8.7" height="28.08" fill="#dcac77"/>
<path d="M215.5 782.5V884.6" stroke="#111" stroke-width="1.1" fill="none"/>
<path d="M211.9 884.6H215.5" stroke="#111" stroke-width="1.1"/>
<text x="210.9" y="884.6" dy="0.36em" text-anchor="end" font-size="7.6" font-weight="bold">0</text>
<path d="M211.9 859.08H215.5" stroke="#111" stroke-width="1.1"/>
<text x="210.9" y="859.08" dy="0.36em" text-anchor="end" font-size="7.6" font-weight="bold">2</text>
<path d="M211.9 833.55H215.5" stroke="#111" stroke-width="1.1"/>
<text x="210.9" y="833.55" dy="0.36em" text-anchor="end" font-size="7.6" font-weight="bold">4</text>
<path d="M211.9 808.02H215.5" stroke="#111" stroke-width="1.1"/>
<text x="210.9" y="808.02" dy="0.36em" text-anchor="end" font-size="7.6" font-weight="bold">6</text>
<path d="M211.9 782.5H215.5" stroke="#111" stroke-width="1.1"/>
<text x="210.9" y="782.5" dy="0.36em" text-anchor="end" font-size="7.6" font-weight="bold">8</text>
<path d="M215.5 884.6H318.8" stroke="#111" stroke-width="1.1"/>
<path d="M231.3 884.6V888.3" stroke="#111" stroke-width="1.1"/>
<text x="231.3" y="897.4" text-anchor="middle" font-size="7.5" font-weight="bold">T6</text>
<path d="M266.8 884.6V888.3" stroke="#111" stroke-width="1.1"/>
<text x="266.8" y="897.4" text-anchor="middle" font-size="7.5" font-weight="bold">T12</text>
<path d="M302.3 884.6V888.3" stroke="#111" stroke-width="1.1"/>
<text x="302.3" y="897.4" text-anchor="middle" font-size="7.5" font-weight="bold">T24</text>
<text transform="translate(197.1,833.55) rotate(-90)" text-anchor="middle" dy="0.35em" font-size="7.6" font-weight="bold">Log<tspan font-size="5" dy="2">2</tspan><tspan dy="-2">(Fold Change)</tspan></text>
<text x="426" y="768" font-size="8.1" font-style="italic">casp9</text>
<rect x="397.5" y="778.45" width="10.9" height="4.7" fill="#4e5aa8"/>
<text x="413.9" y="780.85" dy="0.35em" font-size="7.8">q-PCR</text>
<rect x="449" y="778.45" width="11" height="4.7" fill="#dcac77"/>
<text x="465.9" y="780.85" dy="0.35em" font-size="7.8">FPKM</text>
<rect x="392.9" y="852.27" width="8.7" height="32.33" fill="#4e5aa8"/>
<rect x="406.2" y="882.22" width="8.7" height="2.38" fill="#dcac77"/>
<rect x="428.4" y="829.13" width="8.7" height="55.47" fill="#4e5aa8"/>
<rect x="441.7" y="849.55" width="8.7" height="35.05" fill="#dcac77"/>
<rect x="463.9" y="806.32" width="8.7" height="78.28" fill="#4e5aa8"/>
<rect x="477.2" y="840.7" width="8.7" height="43.9" fill="#dcac77"/>
<path d="M388.1 782.5V884.6" stroke="#111" stroke-width="1.1" fill="none"/>
<path d="M384.5 884.6H388.1" stroke="#111" stroke-width="1.1"/>
<text x="383.5" y="884.6" dy="0.36em" text-anchor="end" font-size="7.6" font-weight="bold">0</text>
<path d="M384.5 850.57H388.1" stroke="#111" stroke-width="1.1"/>
<text x="383.5" y="850.57" dy="0.36em" text-anchor="end" font-size="7.6" font-weight="bold">5</text>
<path d="M384.5 816.53H388.1" stroke="#111" stroke-width="1.1"/>
<text x="383.5" y="816.53" dy="0.36em" text-anchor="end" font-size="7.6" font-weight="bold">10</text>
<path d="M384.5 782.5H388.1" stroke="#111" stroke-width="1.1"/>
<text x="383.5" y="782.5" dy="0.36em" text-anchor="end" font-size="7.6" font-weight="bold">15</text>
<path d="M388.1 884.6H491.4" stroke="#111" stroke-width="1.1"/>
<path d="M403.9 884.6V888.3" stroke="#111" stroke-width="1.1"/>
<text x="403.9" y="897.4" text-anchor="middle" font-size="7.5" font-weight="bold">T6</text>
<path d="M439.4 884.6V888.3" stroke="#111" stroke-width="1.1"/>
<text x="439.4" y="897.4" text-anchor="middle" font-size="7.5" font-weight="bold">T12</text>
<path d="M474.9 884.6V888.3" stroke="#111" stroke-width="1.1"/>
<text x="474.9" y="897.4" text-anchor="middle" font-size="7.5" font-weight="bold">T24</text>
<text transform="translate(364.7,833.55) rotate(-90)" text-anchor="middle" dy="0.35em" font-size="7.6" font-weight="bold">Log<tspan font-size="5" dy="2">2</tspan><tspan dy="-2">(Fold Change)</tspan></text>
<text x="588.9" y="768" font-size="8.1" font-style="italic">bcl-2</text>
<rect x="560.4" y="778.45" width="10.9" height="4.7" fill="#4e5aa8"/>
<text x="576.8" y="780.85" dy="0.35em" font-size="7.8">q-PCR</text>
<rect x="611.9" y="778.45" width="11" height="4.7" fill="#dcac77"/>
<text x="628.8" y="780.85" dy="0.35em" font-size="7.8">FPKM</text>
<rect x="555.8" y="806.75" width="8.7" height="1.28" fill="#4e5aa8"/>
<rect x="569.1" y="799.35" width="8.7" height="8.68" fill="#dcac77"/>
<rect x="591.3" y="808.02" width="8.7" height="57.69" fill="#4e5aa8"/>
<rect x="604.6" y="808.02" width="8.7" height="17.87" fill="#dcac77"/>
<rect x="626.8" y="808.02" width="8.7" height="51.05" fill="#4e5aa8"/>
<rect x="640.1" y="808.02" width="8.7" height="14.8" fill="#dcac77"/>
<path d="M551 782.5V884.6" stroke="#111" stroke-width="1.1" fill="none"/>
<path d="M547.4 884.6H551" stroke="#111" stroke-width="1.1"/>
<text x="546.4" y="884.6" dy="0.36em" text-anchor="end" font-size="7.6" font-weight="bold">-3</text>
<path d="M547.4 859.08H551" stroke="#111" stroke-width="1.1"/>
<text x="546.4" y="859.08" dy="0.36em" text-anchor="end" font-size="7.6" font-weight="bold">-2</text>
<path d="M547.4 833.55H551" stroke="#111" stroke-width="1.1"/>
<text x="546.4" y="833.55" dy="0.36em" text-anchor="end" font-size="7.6" font-weight="bold">-1</text>
<path d="M547.4 808.02H551" stroke="#111" stroke-width="1.1"/>
<text x="546.4" y="808.02" dy="0.36em" text-anchor="end" font-size="7.6" font-weight="bold">0</text>
<path d="M547.4 782.5H551" stroke="#111" stroke-width="1.1"/>
<text x="546.4" y="782.5" dy="0.36em" text-anchor="end" font-size="7.6" font-weight="bold">1</text>
<path d="M551 884.6H654.3" stroke="#111" stroke-width="1.1"/>
<path d="M551 808.02H654.3" stroke="#111" stroke-width="1.1"/>
<path d="M566.8 884.6V888.3" stroke="#111" stroke-width="1.1"/>
<text x="566.8" y="897.4" text-anchor="middle" font-size="7.5" font-weight="bold">T6</text>
<path d="M602.3 884.6V888.3" stroke="#111" stroke-width="1.1"/>
<text x="602.3" y="897.4" text-anchor="middle" font-size="7.5" font-weight="bold">T12</text>
<path d="M637.8 884.6V888.3" stroke="#111" stroke-width="1.1"/>
<text x="637.8" y="897.4" text-anchor="middle" font-size="7.5" font-weight="bold">T24</text>
<text transform="translate(529.6,833.55) rotate(-90)" text-anchor="middle" dy="0.35em" font-size="7.6" font-weight="bold">Log<tspan font-size="5" dy="2">2</tspan><tspan dy="-2">(Fold Change)</tspan></text>
</svg>
</body></html>
